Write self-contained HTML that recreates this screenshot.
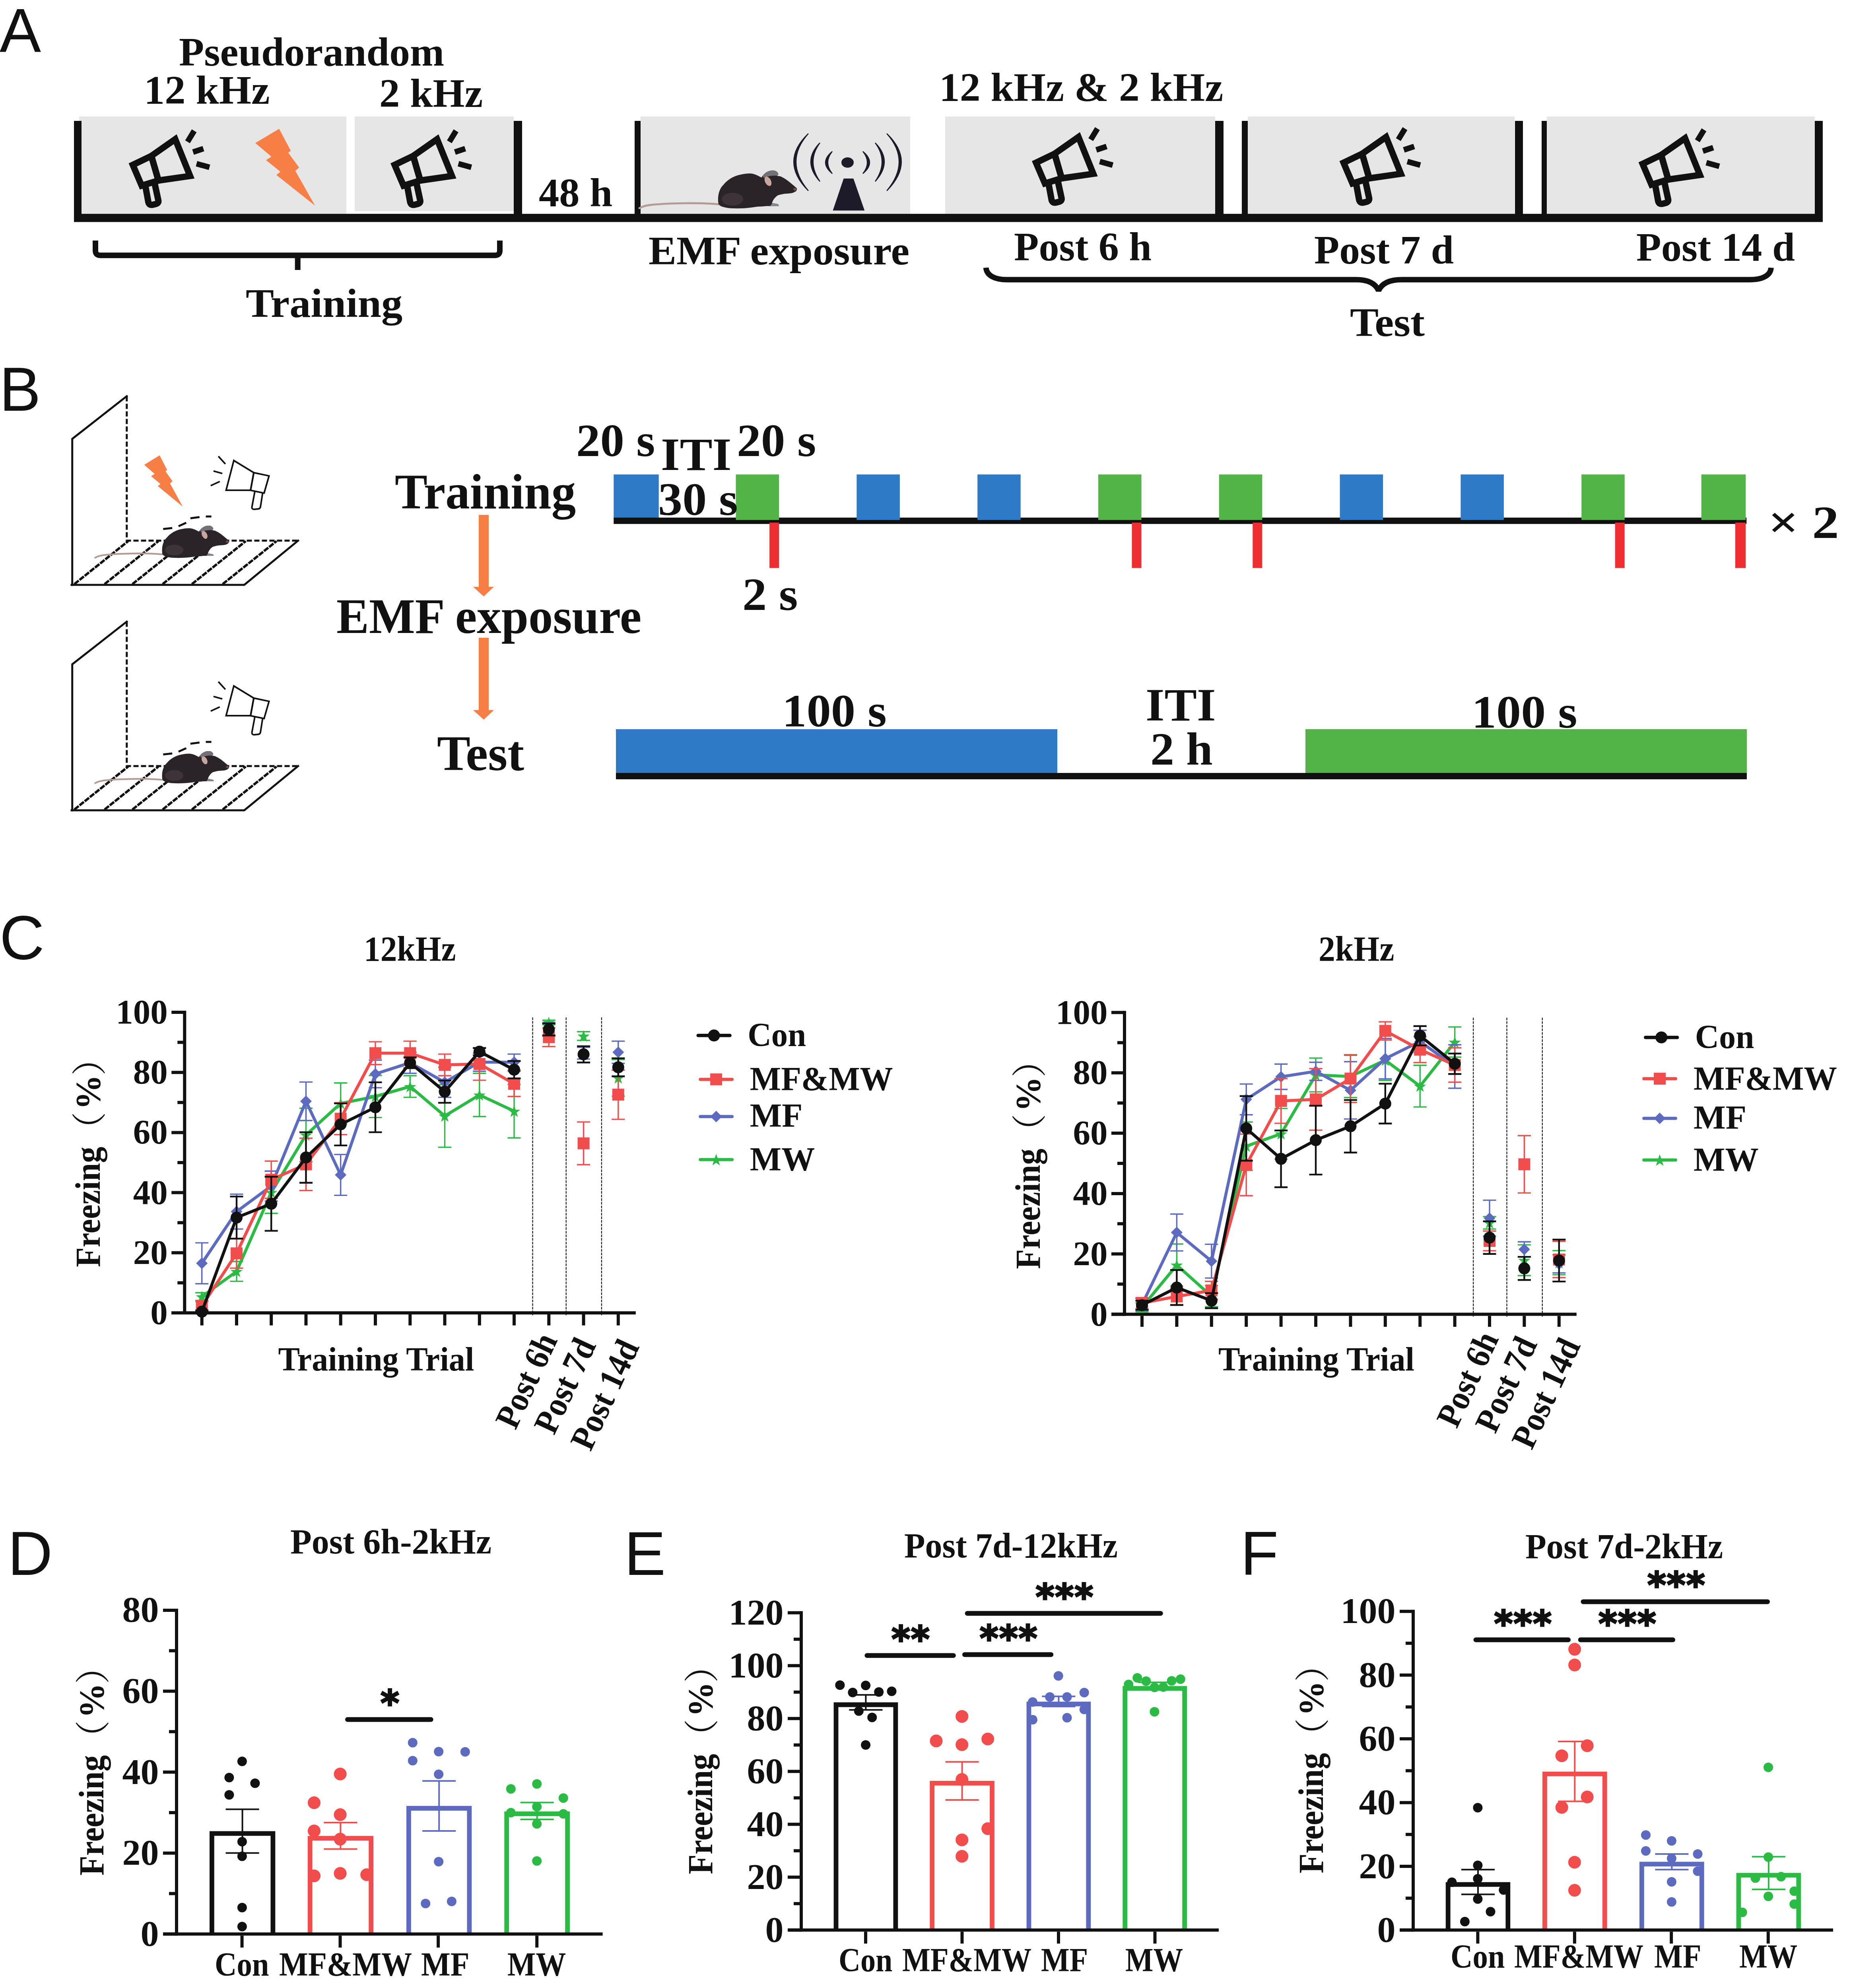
<!DOCTYPE html>
<html lang="en"><head><meta charset="utf-8"><title>Figure</title>
<style>
html,body{margin:0;padding:0;background:#fff;}
svg{display:block;}
text{font-family:"Liberation Serif", serif;font-weight:700;fill:#111;}
text.pl{font-family:"Liberation Sans", sans-serif;font-weight:400;}
text.cj{font-family:"Liberation Serif", "Noto Serif CJK SC", serif;}
</style></head><body>
<svg width="4650" height="5021" viewBox="0 0 4650 5021">
<rect width="4650" height="5021" fill="#fff"/>
<defs>
<g id="mega" fill="none" stroke="#111" stroke-width="16">
  <polygon points="13.9,94.7 60.6,72.3 78.5,134 36.3,147"/>
  <polygon points="60.6,72.3 120.7,30.1 158,122.6 78.5,134"/>
  <path d="M46,150 L53,188 Q55,197 64,195 L72,193 Q80,191 78,183 L68.8,140.5" stroke-linejoin="round"/>
  <g stroke-width="14">
  <line x1="151.6" y1="36.6" x2="168.4" y2="9"/>
  <line x1="165.5" y1="62.5" x2="191.5" y2="53.8"/>
  <line x1="174.3" y1="91.8" x2="206.8" y2="100.8"/>
  </g>
</g>
<polygon id="bolt" fill="#F77E45" points="0,35.8 60,0 89.3,55.3 82.8,60 110.4,97.5 100.7,105.6 150.3,193.3 53,116 63.3,107.9 27,78.7 40.6,69.9"/>
<g id="mouse">
  <path d="M30,114 C-20,109 -100,111 -140,115 C-155,116.5 -165,119.5 -172,123.5" fill="none" stroke="#b39a93" stroke-width="5" stroke-linecap="round"/>
  <path d="M26.7,112.5 C25,100 26,92 28.1,84.4 C31,75 34,70 39.4,64.7 C45,58 51,52.5 59.1,47.8 C67,43.5 75,40.5 84.4,38.7 C92,37 100,36 106.9,36.3 C113,36.8 119,38.5 123.8,40.8 L135.1,46.4 L137.9,42.2 C142,37 146,33.5 151.9,31 C157,29 161,28.5 166,28.8 C171,29.5 176,33 177.3,36.6 C177.5,39 176,41 174.5,42.2 L182.9,43.6 C189,46.5 194,49.5 199.8,53.5 C205,57.5 210,61.5 215.3,66.1 L223.7,73.2 C225,76 223.5,79.5 220.9,81.6 C218,83.5 214.5,85 211,85.8 C205,86.8 200,87 194.1,87.2 C188,88 181,89.5 175.9,91.4 C172,94 168.5,97.5 166,101.3 C163.5,105 162,108 161.8,111.1 C167,111.5 172,112.5 177.3,114 L178.7,118.2 L147.7,118.2 C140,119 133,119.3 126.6,119.6 C115,121.5 103,123 91.4,123.8 C80,124.3 68,124.3 56.3,123.8 C48,123 41,121.5 35.2,119.6 C31,117.5 28,115 26.7,112.5 Z" fill="#2a2327"/>
  <path d="M137.9,42.2 C142,37 146,33.5 151.9,31 C157,29 161,28.5 166,28.8 C171,29.5 176,33 177.3,36.6 C177.5,39 176,41 174.5,42.2 C165,41 150,43 141,48 Z" fill="#737077"/>
  <ellipse cx="151.5" cy="56" rx="7.5" ry="12.5" transform="rotate(-27 151.5 56)" fill="#c9a69b"/>
  <ellipse cx="62" cy="101" rx="27" ry="16" fill="#433b3f" opacity="0.75"/>
  <path d="M161.8,111.1 C167,111.5 172,112.5 177.3,114 L178.7,118.2 L157,118.2 Z" fill="#84858d"/>
  <ellipse cx="219" cy="76" rx="4" ry="3.5" fill="#6d4c49"/>
</g>
<g id="mega2" fill="none" stroke="#111" stroke-width="4">
  <polygon points="588,1158.2 568.6,1233.1 630.1,1233.1 638.2,1188.8"/>
  <polygon points="638.2,1188.8 676.6,1196.9 664.2,1240.1 630.1,1233.1"/>
  <path d="M640.7,1237 L633.6,1275 Q633,1281 639,1281 L649,1280 Q654,1279.5 655,1275 L660.5,1240"/>
  <line x1="549.2" y1="1147.6" x2="566.8" y2="1167"/>
  <line x1="536.9" y1="1184.6" x2="559.1" y2="1190.9"/>
  <line x1="529.9" y1="1221.5" x2="552.7" y2="1211"/>
</g>
</defs>

<!-- Panel A -->
<text class="pl" x="-1.0" y="130.0" font-size="156">A</text>
<text class="b" x="450.0" y="165.0" font-size="102" textLength="667.1" lengthAdjust="spacingAndGlyphs">Pseudorandom</text>
<text class="b" x="362.0" y="261.0" font-size="102" textLength="316.4" lengthAdjust="spacingAndGlyphs">12 kHz</text>
<text class="b" x="954.0" y="269.0" font-size="102" textLength="260.1" lengthAdjust="spacingAndGlyphs">2 kHz</text>
<text class="b" x="2362.0" y="254.0" font-size="102" textLength="714.2" lengthAdjust="spacingAndGlyphs">12 kHz &amp; 2 kHz</text>
<rect x="199.0" y="293.0" width="672.0" height="246.0" fill="#E6E6E6"/>
<rect x="892.0" y="293.0" width="400.0" height="238.0" fill="#E6E6E6"/>
<rect x="1611.0" y="293.0" width="678.0" height="246.0" fill="#E6E6E6"/>
<rect x="2377.0" y="293.0" width="679.0" height="246.0" fill="#E6E6E6"/>
<rect x="3138.0" y="293.0" width="671.0" height="246.0" fill="#E6E6E6"/>
<rect x="3890.0" y="293.0" width="674.0" height="246.0" fill="#E6E6E6"/>
<rect x="186.0" y="537.8" width="4398.0" height="20.6" fill="#111"/>
<rect x="186.0" y="304.0" width="19.0" height="240.0" fill="#111"/>
<rect x="1292.0" y="304.0" width="21.0" height="240.0" fill="#111"/>
<rect x="1596.0" y="304.0" width="15.0" height="240.0" fill="#111"/>
<rect x="3056.0" y="304.0" width="21.0" height="240.0" fill="#111"/>
<rect x="3123.0" y="304.0" width="15.0" height="240.0" fill="#111"/>
<rect x="3810.0" y="304.0" width="20.0" height="240.0" fill="#111"/>
<rect x="3877.0" y="304.0" width="13.0" height="240.0" fill="#111"/>
<rect x="4564.0" y="304.0" width="20.0" height="240.0" fill="#111"/>
<use href="#mega" x="320" y="320"/>
<use href="#mega" x="978.5" y="320"/>
<use href="#mega" x="2591.5" y="314.5"/>
<use href="#mega" x="3365" y="314.5"/>
<use href="#mega" x="4117" y="317.5"/>
<use href="#bolt" x="642" y="324"/>
<use href="#mouse" transform="translate(1780,400)"/>
<g fill="#1d1b2a" stroke="#1d1b2a" stroke-width="2.6" stroke-linejoin="round">
<path d="M2092.5,381.5 Q2059.8,408.8 2092.5,436 Q2070.8,408.8 2092.5,381.5 Z"/>
<path d="M2170.5,381.5 Q2203.2,408.8 2170.5,436 Q2192.2,408.8 2170.5,381.5 Z"/>
<path d="M2061.4,360 Q2017.0,406 2061.4,455.6 Q2028.0,406 2061.4,360 Z"/>
<path d="M2201.6,360 Q2246.0,406 2201.6,455.6 Q2235.0,406 2201.6,360 Z"/>
<path d="M2032.2,336.7 Q1960.4,406 2032.2,479 Q1971.4,406 2032.2,336.7 Z"/>
<path d="M2230.8,336.7 Q2302.6,406 2230.8,479 Q2291.6,406 2230.8,336.7 Z"/>
</g>
<ellipse cx="2131.5" cy="408.8" rx="15.5" ry="13" fill="#1d1b2a"/>
<polygon points="2121.7,449 2146.3,449 2174.3,529.6 2094.5,529.6" fill="#1d1b2a"/>
<text class="b" x="1355.0" y="519.0" font-size="102" textLength="185.3" lengthAdjust="spacingAndGlyphs">48 h</text>
<text class="b" x="1631.0" y="665.0" font-size="102" textLength="656.0" lengthAdjust="spacingAndGlyphs">EMF exposure</text>
<text class="b" x="2550.0" y="655.0" font-size="102" textLength="346.1" lengthAdjust="spacingAndGlyphs">Post 6 h</text>
<text class="b" x="3305.0" y="663.0" font-size="102" textLength="351.1" lengthAdjust="spacingAndGlyphs">Post 7 d</text>
<text class="b" x="4115.0" y="656.0" font-size="102" textLength="399.1" lengthAdjust="spacingAndGlyphs">Post 14 d</text>
<text class="b" x="618.0" y="797.0" font-size="102" textLength="394.1" lengthAdjust="spacingAndGlyphs">Training</text>
<text class="b" x="3395.0" y="845.0" font-size="102" textLength="188.1" lengthAdjust="spacingAndGlyphs">Test</text>
<path d="M240,605 L240,630 Q240,642.2 252,642.2 L1245,642.2 Q1257,642.2 1257,630 L1257,605 M748.7,642 L748.7,679" fill="none" stroke="#111" stroke-width="14"/>
<path d="M2479.7,673.3 C2481,692 2500,703.4 2533,703.4 L3411,703.4 Q3455,703.4 3467,731 Q3479,703.4 3525,703.4 L4400,703.4 C4434,703.4 4453,692 4454,673.3" fill="none" stroke="#111" stroke-width="13.6" stroke-linejoin="bevel"/>
<!-- Panel B -->
<text class="pl" x="-1.5" y="1032.5" font-size="156">B</text>
<g transform="translate(0,0)">
<g fill="none" stroke="#111" stroke-width="5" stroke-linecap="square">
<path d="M181.7,1471 L181.7,1103.7 L318.8,996.4"/>
<path d="M180,1471 L614.3,1471 L749.7,1359.7"/>
<path d="M318.8,996.4 L318.8,1359.7 L749.7,1359.7" stroke-dasharray="13 6" stroke-linecap="butt"/>
<path d="M187,1469 L322.4,1361" stroke-width="6" stroke-dasharray="14 2.6" stroke-linecap="butt"/>
<path d="M263,1469 L398.4,1361" stroke-width="6" stroke-dasharray="14 2.6" stroke-linecap="butt"/>
<path d="M333,1469 L468.4,1361" stroke-width="6" stroke-dasharray="14 2.6" stroke-linecap="butt"/>
<path d="M409,1469 L544.4,1361" stroke-width="6" stroke-dasharray="14 2.6" stroke-linecap="butt"/>
<path d="M482.6,1469 L618.0,1361" stroke-width="6" stroke-dasharray="14 2.6" stroke-linecap="butt"/>
<path d="M560,1469 L695.4,1361" stroke-width="6" stroke-dasharray="14 2.6" stroke-linecap="butt"/>
<path d="M410.3,1330.5 L433.2,1328 M449,1323.5 L468.3,1314.7 M478.9,1303.5 L501.7,1300.6 M517.6,1298.9 L531.6,1298.9" stroke-linecap="butt"/>
</g>
<use href="#mega2"/>
<use href="#bolt" transform="translate(362.8,1145.2) scale(0.643,0.667)"/>
<use href="#mouse" transform="translate(385.6,1297.6) scale(0.85)"/>
</g>
<g transform="translate(0,567)">
<g fill="none" stroke="#111" stroke-width="5" stroke-linecap="square">
<path d="M181.7,1471 L181.7,1103.7 L318.8,996.4"/>
<path d="M180,1471 L614.3,1471 L749.7,1359.7"/>
<path d="M318.8,996.4 L318.8,1359.7 L749.7,1359.7" stroke-dasharray="13 6" stroke-linecap="butt"/>
<path d="M187,1469 L322.4,1361" stroke-width="6" stroke-dasharray="14 2.6" stroke-linecap="butt"/>
<path d="M263,1469 L398.4,1361" stroke-width="6" stroke-dasharray="14 2.6" stroke-linecap="butt"/>
<path d="M333,1469 L468.4,1361" stroke-width="6" stroke-dasharray="14 2.6" stroke-linecap="butt"/>
<path d="M409,1469 L544.4,1361" stroke-width="6" stroke-dasharray="14 2.6" stroke-linecap="butt"/>
<path d="M482.6,1469 L618.0,1361" stroke-width="6" stroke-dasharray="14 2.6" stroke-linecap="butt"/>
<path d="M560,1469 L695.4,1361" stroke-width="6" stroke-dasharray="14 2.6" stroke-linecap="butt"/>
<path d="M410.3,1330.5 L433.2,1328 M449,1323.5 L468.3,1314.7 M478.9,1303.5 L501.7,1300.6 M517.6,1298.9 L531.6,1298.9" stroke-linecap="butt"/>
</g>
<use href="#mega2"/>
<use href="#mouse" transform="translate(385.6,1297.6) scale(0.85)"/>
</g>
<text class="b" x="993.0" y="1279.0" font-size="124" textLength="455.1" lengthAdjust="spacingAndGlyphs">Training</text>
<text class="b" x="846.0" y="1592.0" font-size="124" textLength="767.2" lengthAdjust="spacingAndGlyphs">EMF exposure</text>
<text class="b" x="1099.0" y="1937.0" font-size="124" textLength="219.1" lengthAdjust="spacingAndGlyphs">Test</text>
<path d="M1204,1295 L1229,1295 L1229,1476 L1242,1476 L1216.5,1500 L1190,1476 L1204,1476 Z" fill="#F77E45"/>
<path d="M1204,1604 L1229,1604 L1229,1786 L1242,1786 L1216.5,1810 L1190,1786 L1204,1786 Z" fill="#F77E45"/>
<rect x="1543.3" y="1193.3" width="113.4" height="110.0" fill="#2F7AC7"/>
<rect x="1543.3" y="1301.8" width="2849.0" height="16.0" fill="#111"/>
<rect x="1850.6" y="1193.3" width="108.5" height="114.5" fill="#52B347"/>
<rect x="1935.1" y="1314.4" width="24.0" height="114.2" fill="#EE2E31"/>
<rect x="2154.4" y="1193.3" width="108.5" height="114.5" fill="#2F7AC7"/>
<rect x="2458.2" y="1193.3" width="108.5" height="114.5" fill="#2F7AC7"/>
<rect x="2762.0" y="1193.3" width="108.5" height="114.5" fill="#52B347"/>
<rect x="2846.5" y="1314.4" width="24.0" height="114.2" fill="#EE2E31"/>
<rect x="3065.8" y="1193.3" width="108.5" height="114.5" fill="#52B347"/>
<rect x="3150.3" y="1314.4" width="24.0" height="114.2" fill="#EE2E31"/>
<rect x="3369.6" y="1193.3" width="108.5" height="114.5" fill="#2F7AC7"/>
<rect x="3673.4" y="1193.3" width="108.5" height="114.5" fill="#2F7AC7"/>
<rect x="3977.2" y="1193.3" width="108.5" height="114.5" fill="#52B347"/>
<rect x="4061.7" y="1314.4" width="24.0" height="114.2" fill="#EE2E31"/>
<rect x="4278.7" y="1193.3" width="111.6" height="114.5" fill="#52B347"/>
<rect x="4363.9" y="1314.4" width="26.4" height="114.2" fill="#EE2E31"/>
<text class="b" x="1449.0" y="1147.0" font-size="117" textLength="198.3" lengthAdjust="spacingAndGlyphs">20 s</text>
<text class="b" x="1662.0" y="1182.0" font-size="117" textLength="177.4" lengthAdjust="spacingAndGlyphs">ITI</text>
<text class="b" x="1853.0" y="1147.0" font-size="117" textLength="199.3" lengthAdjust="spacingAndGlyphs">20 s</text>
<text class="b" x="1655.0" y="1295.0" font-size="117" textLength="200.5" lengthAdjust="spacingAndGlyphs">30 s</text>
<text class="b" x="1867.0" y="1534.0" font-size="117" textLength="139.5" lengthAdjust="spacingAndGlyphs">2 s</text>
<text class="b" x="4446.4" y="1353.0" font-size="117" textLength="178.3" lengthAdjust="spacingAndGlyphs">× 2</text>
<rect x="1549.0" y="1834.0" width="1110.0" height="111.0" fill="#2F7AC7"/>
<rect x="3283.0" y="1834.0" width="1110.0" height="111.0" fill="#52B347"/>
<rect x="1549.0" y="1944.0" width="2844.0" height="16.0" fill="#111"/>
<text class="b" x="1967.0" y="1827.0" font-size="117" textLength="262.7" lengthAdjust="spacingAndGlyphs">100 s</text>
<text class="b" x="3701.0" y="1830.0" font-size="117" textLength="265.7" lengthAdjust="spacingAndGlyphs">100 s</text>
<text class="b" x="2881.0" y="1812.0" font-size="117" textLength="176.4" lengthAdjust="spacingAndGlyphs">ITI</text>
<text class="b" x="2893.0" y="1923.0" font-size="117" textLength="156.8" lengthAdjust="spacingAndGlyphs">2 h</text>
<!-- Panel C -->
<text class="pl" x="-1.0" y="2412.0" font-size="156">C</text>
<line x1="1339.5" y1="2559.0" x2="1339.5" y2="3308.0" stroke="#1a1414" stroke-width="2.2" stroke-dasharray="6.5 2.6"/>
<line x1="1423.7" y1="2559.0" x2="1423.7" y2="3308.0" stroke="#1a1414" stroke-width="2.2" stroke-dasharray="6.5 2.6"/>
<line x1="1512.9" y1="2559.0" x2="1512.9" y2="3308.0" stroke="#1a1414" stroke-width="2.2" stroke-dasharray="6.5 2.6"/>
<path d="M507.7,3251.3 L507.7,3271.0 M491.2,3251.3 L524.2,3251.3 M491.2,3271.0 L524.2,3271.0" fill="none" stroke="#2BBB44" stroke-width="3.4"/>
<path d="M595.0,3172.7 L595.0,3222.6 M578.5,3172.7 L611.5,3172.7 M578.5,3222.6 L611.5,3222.6" fill="none" stroke="#2BBB44" stroke-width="3.4"/>
<path d="M682.2,2945.9 L682.2,3051.8 M665.7,2945.9 L698.7,2945.9 M665.7,3051.8 L698.7,3051.8" fill="none" stroke="#2BBB44" stroke-width="3.4"/>
<path d="M769.5,2787.2 L769.5,2921.7 M753.0,2787.2 L786.0,2787.2 M753.0,2921.7 L786.0,2921.7" fill="none" stroke="#2BBB44" stroke-width="3.4"/>
<path d="M856.7,2723.7 L856.7,2826.5 M840.2,2723.7 L873.2,2723.7 M840.2,2826.5 L873.2,2826.5" fill="none" stroke="#2BBB44" stroke-width="3.4"/>
<path d="M944.0,2704.8 L944.0,2810.6 M927.5,2704.8 L960.5,2704.8 M927.5,2810.6 L960.5,2810.6" fill="none" stroke="#2BBB44" stroke-width="3.4"/>
<path d="M1031.3,2705.5 L1031.3,2759.9 M1014.8,2705.5 L1047.8,2705.5 M1014.8,2759.9 L1047.8,2759.9" fill="none" stroke="#2BBB44" stroke-width="3.4"/>
<path d="M1118.5,2728.2 L1118.5,2885.4 M1102.0,2728.2 L1135.0,2728.2 M1102.0,2885.4 L1135.0,2885.4" fill="none" stroke="#2BBB44" stroke-width="3.4"/>
<path d="M1205.8,2699.5 L1205.8,2808.3 M1189.3,2699.5 L1222.3,2699.5 M1189.3,2808.3 L1222.3,2808.3" fill="none" stroke="#2BBB44" stroke-width="3.4"/>
<path d="M1293.0,2727.4 L1293.0,2862.0 M1276.5,2727.4 L1309.5,2727.4 M1276.5,2862.0 L1309.5,2862.0" fill="none" stroke="#2BBB44" stroke-width="3.4"/>
<path d="M1380.3,2566.0 L1380.3,2577.4 M1363.8,2566.0 L1396.8,2566.0 M1363.8,2577.4 L1396.8,2577.4" fill="none" stroke="#2BBB44" stroke-width="3.4"/>
<path d="M1467.6,2594.8 L1467.6,2616.6 M1451.1,2594.8 L1484.1,2594.8 M1451.1,2616.6 L1484.1,2616.6" fill="none" stroke="#2BBB44" stroke-width="3.4"/>
<path d="M1554.8,2664.7 L1554.8,2756.9 M1538.3,2664.7 L1571.3,2664.7 M1538.3,2756.9 L1571.3,2756.9" fill="none" stroke="#2BBB44" stroke-width="3.4"/>
<polyline points="507.7,3261.2 595.0,3197.7 682.2,2998.8 769.5,2854.4 856.7,2775.1 944.0,2757.7 1031.3,2732.7 1118.5,2806.8 1205.8,2753.9 1293.0,2794.7" fill="none" stroke="#2BBB44" stroke-width="7.5" stroke-linejoin="round"/>
<polygon points="507.7,3246.7 511.5,3257.5 522.9,3257.7 513.8,3264.7 517.1,3275.6 507.7,3269.1 498.3,3275.6 501.6,3264.7 492.5,3257.7 503.9,3257.5" fill="#2BBB44"/>
<polygon points="595.0,3183.2 598.7,3194.0 610.2,3194.2 601.0,3201.1 604.4,3212.1 595.0,3205.6 585.6,3212.1 588.9,3201.1 579.7,3194.2 591.2,3194.0" fill="#2BBB44"/>
<polygon points="682.2,2984.3 686.0,2995.2 697.4,2995.4 688.3,3002.3 691.6,3013.3 682.2,3006.7 672.8,3013.3 676.1,3002.3 667.0,2995.4 678.5,2995.2" fill="#2BBB44"/>
<polygon points="769.5,2839.9 773.2,2850.8 784.7,2851.0 775.6,2857.9 778.9,2868.9 769.5,2862.3 760.1,2868.9 763.4,2857.9 754.3,2851.0 765.7,2850.8" fill="#2BBB44"/>
<polygon points="856.7,2760.6 860.5,2771.4 872.0,2771.6 862.8,2778.5 866.1,2789.5 856.7,2783.0 847.3,2789.5 850.7,2778.5 841.5,2771.6 853.0,2771.4" fill="#2BBB44"/>
<polygon points="944.0,2743.2 947.8,2754.0 959.2,2754.2 950.1,2761.2 953.4,2772.1 944.0,2765.6 934.6,2772.1 937.9,2761.2 928.8,2754.2 940.2,2754.0" fill="#2BBB44"/>
<polygon points="1031.3,2718.2 1035.0,2729.1 1046.5,2729.3 1037.3,2736.2 1040.7,2747.2 1031.3,2740.6 1021.9,2747.2 1025.2,2736.2 1016.0,2729.3 1027.5,2729.1" fill="#2BBB44"/>
<polygon points="1118.5,2792.3 1122.3,2803.1 1133.7,2803.4 1124.6,2810.3 1127.9,2821.3 1118.5,2814.7 1109.1,2821.3 1112.4,2810.3 1103.3,2803.4 1114.8,2803.1" fill="#2BBB44"/>
<polygon points="1205.8,2739.4 1209.5,2750.2 1221.0,2750.5 1211.9,2757.4 1215.2,2768.3 1205.8,2761.8 1196.4,2768.3 1199.7,2757.4 1190.6,2750.5 1202.0,2750.2" fill="#2BBB44"/>
<polygon points="1293.0,2780.2 1296.8,2791.0 1308.3,2791.3 1299.1,2798.2 1302.4,2809.2 1293.0,2802.6 1283.6,2809.2 1287.0,2798.2 1277.8,2791.3 1289.3,2791.0" fill="#2BBB44"/>
<polygon points="1380.3,2557.2 1384.1,2568.0 1395.5,2568.3 1386.4,2575.2 1389.7,2586.1 1380.3,2579.6 1370.9,2586.1 1374.2,2575.2 1365.1,2568.3 1376.5,2568.0" fill="#2BBB44"/>
<polygon points="1467.6,2591.2 1471.3,2602.0 1482.8,2602.3 1473.6,2609.2 1477.0,2620.2 1467.6,2613.6 1458.2,2620.2 1461.5,2609.2 1452.3,2602.3 1463.8,2602.0" fill="#2BBB44"/>
<polygon points="1554.8,2696.3 1558.6,2707.1 1570.0,2707.4 1560.9,2714.3 1564.2,2725.3 1554.8,2718.7 1545.4,2725.3 1548.7,2714.3 1539.6,2707.4 1551.1,2707.1" fill="#2BBB44"/>
<path d="M507.7,3125.9 L507.7,3228.7 M491.2,3125.9 L524.2,3125.9 M491.2,3228.7 L524.2,3228.7" fill="none" stroke="#5C6BC0" stroke-width="3.4"/>
<path d="M595.0,3003.4 L595.0,3091.1 M578.5,3003.4 L611.5,3003.4 M578.5,3091.1 L611.5,3091.1" fill="none" stroke="#5C6BC0" stroke-width="3.4"/>
<path d="M682.2,2945.2 L682.2,3020.8 M665.7,2945.2 L698.7,2945.2 M665.7,3020.8 L698.7,3020.8" fill="none" stroke="#5C6BC0" stroke-width="3.4"/>
<path d="M769.5,2721.4 L769.5,2818.2 M753.0,2721.4 L786.0,2721.4 M753.0,2818.2 L786.0,2818.2" fill="none" stroke="#5C6BC0" stroke-width="3.4"/>
<path d="M856.7,2903.6 L856.7,3006.4 M840.2,2903.6 L873.2,2903.6 M840.2,3006.4 L873.2,3006.4" fill="none" stroke="#5C6BC0" stroke-width="3.4"/>
<path d="M944.0,2666.2 L944.0,2735.8 M927.5,2666.2 L960.5,2666.2 M927.5,2735.8 L960.5,2735.8" fill="none" stroke="#5C6BC0" stroke-width="3.4"/>
<path d="M1031.3,2646.5 L1031.3,2699.5 M1014.8,2646.5 L1047.8,2646.5 M1014.8,2699.5 L1047.8,2699.5" fill="none" stroke="#5C6BC0" stroke-width="3.4"/>
<path d="M1118.5,2684.3 L1118.5,2759.9 M1102.0,2684.3 L1135.0,2684.3 M1102.0,2759.9 L1135.0,2759.9" fill="none" stroke="#5C6BC0" stroke-width="3.4"/>
<path d="M1205.8,2648.8 L1205.8,2694.2 M1189.3,2648.8 L1222.3,2648.8 M1189.3,2694.2 L1222.3,2694.2" fill="none" stroke="#5C6BC0" stroke-width="3.4"/>
<path d="M1293.0,2651.1 L1293.0,2691.9 M1276.5,2651.1 L1309.5,2651.1 M1276.5,2691.9 L1309.5,2691.9" fill="none" stroke="#5C6BC0" stroke-width="3.4"/>
<path d="M1380.3,2572.1 L1380.3,2606.1 M1363.8,2572.1 L1396.8,2572.1 M1363.8,2606.1 L1396.8,2606.1" fill="none" stroke="#5C6BC0" stroke-width="3.4"/>
<path d="M1467.6,2634.0 L1467.6,2663.6 M1451.1,2634.0 L1484.1,2634.0 M1451.1,2663.6 L1484.1,2663.6" fill="none" stroke="#5C6BC0" stroke-width="3.4"/>
<path d="M1554.8,2618.6 L1554.8,2674.5 M1538.3,2618.6 L1571.3,2618.6 M1538.3,2674.5 L1571.3,2674.5" fill="none" stroke="#5C6BC0" stroke-width="3.4"/>
<polyline points="507.7,3177.3 595.0,3047.2 682.2,2983.0 769.5,2769.8 856.7,2955.0 944.0,2701.0 1031.3,2673.0 1118.5,2722.1 1205.8,2671.5 1293.0,2671.5" fill="none" stroke="#5C6BC0" stroke-width="7.5" stroke-linejoin="round"/>
<polygon points="507.7,3162.8 522.2,3177.3 507.7,3191.8 493.2,3177.3" fill="#5C6BC0"/>
<polygon points="595.0,3032.7 609.5,3047.2 595.0,3061.7 580.5,3047.2" fill="#5C6BC0"/>
<polygon points="682.2,2968.5 696.7,2983.0 682.2,2997.5 667.7,2983.0" fill="#5C6BC0"/>
<polygon points="769.5,2755.3 784.0,2769.8 769.5,2784.3 755.0,2769.8" fill="#5C6BC0"/>
<polygon points="856.7,2940.5 871.2,2955.0 856.7,2969.5 842.2,2955.0" fill="#5C6BC0"/>
<polygon points="944.0,2686.5 958.5,2701.0 944.0,2715.5 929.5,2701.0" fill="#5C6BC0"/>
<polygon points="1031.3,2658.5 1045.8,2673.0 1031.3,2687.5 1016.8,2673.0" fill="#5C6BC0"/>
<polygon points="1118.5,2707.6 1133.0,2722.1 1118.5,2736.6 1104.0,2722.1" fill="#5C6BC0"/>
<polygon points="1205.8,2657.0 1220.3,2671.5 1205.8,2686.0 1191.3,2671.5" fill="#5C6BC0"/>
<polygon points="1293.0,2657.0 1307.5,2671.5 1293.0,2686.0 1278.5,2671.5" fill="#5C6BC0"/>
<polygon points="1380.3,2574.6 1394.8,2589.1 1380.3,2603.6 1365.8,2589.1" fill="#5C6BC0"/>
<polygon points="1467.6,2634.3 1482.1,2648.8 1467.6,2663.3 1453.1,2648.8" fill="#5C6BC0"/>
<polygon points="1554.8,2632.0 1569.3,2646.5 1554.8,2661.0 1540.3,2646.5" fill="#5C6BC0"/>
<path d="M507.7,3273.3 L507.7,3296.0 M491.2,3273.3 L524.2,3273.3 M491.2,3296.0 L524.2,3296.0" fill="none" stroke="#F24D4D" stroke-width="3.4"/>
<path d="M595.0,3115.3 L595.0,3189.4 M578.5,3115.3 L611.5,3115.3 M578.5,3189.4 L611.5,3189.4" fill="none" stroke="#F24D4D" stroke-width="3.4"/>
<path d="M682.2,2920.2 L682.2,3014.0 M665.7,2920.2 L698.7,2920.2 M665.7,3014.0 L698.7,3014.0" fill="none" stroke="#F24D4D" stroke-width="3.4"/>
<path d="M769.5,2862.8 L769.5,2994.3 M753.0,2862.8 L786.0,2862.8 M753.0,2994.3 L786.0,2994.3" fill="none" stroke="#F24D4D" stroke-width="3.4"/>
<path d="M856.7,2773.6 L856.7,2853.7 M840.2,2773.6 L873.2,2773.6 M840.2,2853.7 L873.2,2853.7" fill="none" stroke="#F24D4D" stroke-width="3.4"/>
<path d="M944.0,2620.1 L944.0,2677.5 M927.5,2620.1 L960.5,2620.1 M927.5,2677.5 L960.5,2677.5" fill="none" stroke="#F24D4D" stroke-width="3.4"/>
<path d="M1031.3,2618.6 L1031.3,2679.1 M1014.8,2618.6 L1047.8,2618.6 M1014.8,2679.1 L1047.8,2679.1" fill="none" stroke="#F24D4D" stroke-width="3.4"/>
<path d="M1118.5,2651.1 L1118.5,2705.5 M1102.0,2651.1 L1135.0,2651.1 M1102.0,2705.5 L1135.0,2705.5" fill="none" stroke="#F24D4D" stroke-width="3.4"/>
<path d="M1205.8,2635.2 L1205.8,2716.9 M1189.3,2635.2 L1222.3,2635.2 M1189.3,2716.9 L1222.3,2716.9" fill="none" stroke="#F24D4D" stroke-width="3.4"/>
<path d="M1293.0,2694.2 L1293.0,2757.7 M1276.5,2694.2 L1309.5,2694.2 M1276.5,2757.7 L1309.5,2757.7" fill="none" stroke="#F24D4D" stroke-width="3.4"/>
<path d="M1380.3,2585.3 L1380.3,2632.2 M1363.8,2585.3 L1396.8,2585.3 M1363.8,2632.2 L1396.8,2632.2" fill="none" stroke="#F24D4D" stroke-width="3.4"/>
<path d="M1467.6,2821.9 L1467.6,2929.3 M1451.1,2821.9 L1484.1,2821.9 M1451.1,2929.3 L1484.1,2929.3" fill="none" stroke="#F24D4D" stroke-width="3.4"/>
<path d="M1554.8,2691.2 L1554.8,2815.1 M1538.3,2691.2 L1571.3,2691.2 M1538.3,2815.1 L1571.3,2815.1" fill="none" stroke="#F24D4D" stroke-width="3.4"/>
<polyline points="507.7,3284.6 595.0,3152.3 682.2,2967.1 769.5,2928.5 856.7,2813.6 944.0,2648.8 1031.3,2648.8 1118.5,2678.3 1205.8,2676.0 1293.0,2725.9" fill="none" stroke="#F24D4D" stroke-width="7.5" stroke-linejoin="round"/>
<rect x="492.7" y="3269.6" width="30" height="30" fill="#F24D4D"/>
<rect x="580.0" y="3137.3" width="30" height="30" fill="#F24D4D"/>
<rect x="667.2" y="2952.1" width="30" height="30" fill="#F24D4D"/>
<rect x="754.5" y="2913.5" width="30" height="30" fill="#F24D4D"/>
<rect x="841.7" y="2798.6" width="30" height="30" fill="#F24D4D"/>
<rect x="929.0" y="2633.8" width="30" height="30" fill="#F24D4D"/>
<rect x="1016.3" y="2633.8" width="30" height="30" fill="#F24D4D"/>
<rect x="1103.5" y="2663.3" width="30" height="30" fill="#F24D4D"/>
<rect x="1190.8" y="2661.0" width="30" height="30" fill="#F24D4D"/>
<rect x="1278.0" y="2710.9" width="30" height="30" fill="#F24D4D"/>
<rect x="1365.3" y="2593.7" width="30" height="30" fill="#F24D4D"/>
<rect x="1452.6" y="2860.6" width="30" height="30" fill="#F24D4D"/>
<rect x="1539.8" y="2738.1" width="30" height="30" fill="#F24D4D"/>
<path d="M507.7,3296.0 L507.7,3302.0 M491.2,3296.0 L524.2,3296.0 M491.2,3302.0 L524.2,3302.0" fill="none" stroke="#111" stroke-width="4.4"/>
<path d="M595.0,3009.4 L595.0,3115.3 M578.5,3009.4 L611.5,3009.4 M578.5,3115.3 L611.5,3115.3" fill="none" stroke="#111" stroke-width="4.4"/>
<path d="M682.2,2959.5 L682.2,3095.6 M665.7,2959.5 L698.7,2959.5 M665.7,3095.6 L698.7,3095.6" fill="none" stroke="#111" stroke-width="4.4"/>
<path d="M769.5,2847.6 L769.5,2974.7 M753.0,2847.6 L786.0,2847.6 M753.0,2974.7 L786.0,2974.7" fill="none" stroke="#111" stroke-width="4.4"/>
<path d="M856.7,2775.1 L856.7,2880.9 M840.2,2775.1 L873.2,2775.1 M840.2,2880.9 L873.2,2880.9" fill="none" stroke="#111" stroke-width="4.4"/>
<path d="M944.0,2722.1 L944.0,2847.6 M927.5,2722.1 L960.5,2722.1 M927.5,2847.6 L960.5,2847.6" fill="none" stroke="#111" stroke-width="4.4"/>
<path d="M1031.3,2659.4 L1031.3,2686.6 M1014.8,2659.4 L1047.8,2659.4 M1014.8,2686.6 L1047.8,2686.6" fill="none" stroke="#111" stroke-width="4.4"/>
<path d="M1118.5,2717.6 L1118.5,2773.6 M1102.0,2717.6 L1135.0,2717.6 M1102.0,2773.6 L1135.0,2773.6" fill="none" stroke="#111" stroke-width="4.4"/>
<path d="M1205.8,2636.0 L1205.8,2654.1 M1189.3,2636.0 L1222.3,2636.0 M1189.3,2654.1 L1222.3,2654.1" fill="none" stroke="#111" stroke-width="4.4"/>
<path d="M1293.0,2668.5 L1293.0,2712.3 M1276.5,2668.5 L1309.5,2668.5 M1276.5,2712.3 L1309.5,2712.3" fill="none" stroke="#111" stroke-width="4.4"/>
<path d="M1380.3,2574.0 L1380.3,2604.2 M1363.8,2574.0 L1396.8,2574.0 M1363.8,2604.2 L1396.8,2604.2" fill="none" stroke="#111" stroke-width="4.4"/>
<path d="M1467.6,2631.4 L1467.6,2672.3 M1451.1,2631.4 L1484.1,2631.4 M1451.1,2672.3 L1484.1,2672.3" fill="none" stroke="#111" stroke-width="4.4"/>
<path d="M1554.8,2661.7 L1554.8,2707.0 M1538.3,2661.7 L1571.3,2661.7 M1538.3,2707.0 L1571.3,2707.0" fill="none" stroke="#111" stroke-width="4.4"/>
<polyline points="507.7,3299.0 595.0,3062.3 682.2,3027.6 769.5,2911.1 856.7,2828.0 944.0,2784.9 1031.3,2673.0 1118.5,2745.6 1205.8,2645.0 1293.0,2690.4" fill="none" stroke="#111" stroke-width="7.5" stroke-linejoin="round"/>
<circle cx="507.7" cy="3299.0" r="15" fill="#111"/>
<circle cx="595.0" cy="3062.3" r="15" fill="#111"/>
<circle cx="682.2" cy="3027.6" r="15" fill="#111"/>
<circle cx="769.5" cy="2911.1" r="15" fill="#111"/>
<circle cx="856.7" cy="2828.0" r="15" fill="#111"/>
<circle cx="944.0" cy="2784.9" r="15" fill="#111"/>
<circle cx="1031.3" cy="2673.0" r="15" fill="#111"/>
<circle cx="1118.5" cy="2745.6" r="15" fill="#111"/>
<circle cx="1205.8" cy="2645.0" r="15" fill="#111"/>
<circle cx="1293.0" cy="2690.4" r="15" fill="#111"/>
<circle cx="1380.3" cy="2589.1" r="15" fill="#111"/>
<circle cx="1467.6" cy="2651.8" r="15" fill="#111"/>
<circle cx="1554.8" cy="2684.3" r="15" fill="#111"/>
<line x1="464.3" y1="2542.0" x2="464.3" y2="3306.0" stroke="#111" stroke-width="8"/>
<line x1="431.3" y1="3302.0" x2="1598.8" y2="3302.0" stroke="#111" stroke-width="8"/>
<line x1="431.3" y1="3302.0" x2="464.3" y2="3302.0" stroke="#111" stroke-width="8"/>
<text class="b" x="421.8" y="3330.0" font-size="87" text-anchor="end">0</text>
<line x1="446.3" y1="3226.4" x2="464.3" y2="3226.4" stroke="#111" stroke-width="8"/>
<line x1="431.3" y1="3150.8" x2="464.3" y2="3150.8" stroke="#111" stroke-width="8"/>
<text class="b" x="421.8" y="3178.8" font-size="87" text-anchor="end">20</text>
<line x1="446.3" y1="3075.2" x2="464.3" y2="3075.2" stroke="#111" stroke-width="8"/>
<line x1="431.3" y1="2999.6" x2="464.3" y2="2999.6" stroke="#111" stroke-width="8"/>
<text class="b" x="421.8" y="3027.6" font-size="87" text-anchor="end">40</text>
<line x1="446.3" y1="2924.0" x2="464.3" y2="2924.0" stroke="#111" stroke-width="8"/>
<line x1="431.3" y1="2848.4" x2="464.3" y2="2848.4" stroke="#111" stroke-width="8"/>
<text class="b" x="421.8" y="2876.4" font-size="87" text-anchor="end">60</text>
<line x1="446.3" y1="2772.8" x2="464.3" y2="2772.8" stroke="#111" stroke-width="8"/>
<line x1="431.3" y1="2697.2" x2="464.3" y2="2697.2" stroke="#111" stroke-width="8"/>
<text class="b" x="421.8" y="2725.2" font-size="87" text-anchor="end">80</text>
<line x1="446.3" y1="2621.6" x2="464.3" y2="2621.6" stroke="#111" stroke-width="8"/>
<line x1="431.3" y1="2546.0" x2="464.3" y2="2546.0" stroke="#111" stroke-width="8"/>
<text class="b" x="421.8" y="2574.0" font-size="87" text-anchor="end">100</text>
<line x1="507.7" y1="3306.0" x2="507.7" y2="3333.5" stroke="#111" stroke-width="8"/>
<line x1="595.0" y1="3306.0" x2="595.0" y2="3333.5" stroke="#111" stroke-width="8"/>
<line x1="682.2" y1="3306.0" x2="682.2" y2="3333.5" stroke="#111" stroke-width="8"/>
<line x1="769.5" y1="3306.0" x2="769.5" y2="3333.5" stroke="#111" stroke-width="8"/>
<line x1="856.7" y1="3306.0" x2="856.7" y2="3333.5" stroke="#111" stroke-width="8"/>
<line x1="944.0" y1="3306.0" x2="944.0" y2="3333.5" stroke="#111" stroke-width="8"/>
<line x1="1031.3" y1="3306.0" x2="1031.3" y2="3333.5" stroke="#111" stroke-width="8"/>
<line x1="1118.5" y1="3306.0" x2="1118.5" y2="3333.5" stroke="#111" stroke-width="8"/>
<line x1="1205.8" y1="3306.0" x2="1205.8" y2="3333.5" stroke="#111" stroke-width="8"/>
<line x1="1293.0" y1="3306.0" x2="1293.0" y2="3333.5" stroke="#111" stroke-width="8"/>
<line x1="1380.3" y1="3306.0" x2="1380.3" y2="3333.5" stroke="#111" stroke-width="8"/>
<line x1="1467.6" y1="3306.0" x2="1467.6" y2="3333.5" stroke="#111" stroke-width="8"/>
<line x1="1554.8" y1="3306.0" x2="1554.8" y2="3333.5" stroke="#111" stroke-width="8"/>
<text class="b" x="915.0" y="2416.0" font-size="88" textLength="231.4" lengthAdjust="spacingAndGlyphs">12kHz</text>
<text class="cj" transform="translate(250.9,3187.0) rotate(-90)" font-size="88"><tspan textLength="303" lengthAdjust="spacingAndGlyphs">Freezing</tspan><tspan font-weight="400" dx="-0.6" dy="5">（</tspan><tspan dx="5.6" dy="-5">%</tspan><tspan font-weight="400" dx="-2.3" dy="5">）</tspan></text>
<text class="b" x="699.4" y="3446.7" font-size="84" textLength="493.1" lengthAdjust="spacingAndGlyphs">Training Trial</text>
<text transform="translate(1296.5,3598.4) rotate(-65)" font-size="87" textLength="252" lengthAdjust="spacingAndGlyphs">Post 6h</text>
<text transform="translate(1393.5,3611.4) rotate(-65)" font-size="87" textLength="252" lengthAdjust="spacingAndGlyphs">Post 7d</text>
<text transform="translate(1485.2,3652.5) rotate(-65)" font-size="87" textLength="293" lengthAdjust="spacingAndGlyphs">Post 14d</text>
<line x1="1755.8" y1="2604.3" x2="1835.5" y2="2604.3" stroke="#111" stroke-width="8.6" stroke-linecap="round"/>
<circle cx="1795.6" cy="2604.3" r="15" fill="#111"/>
<text class="b" x="1880.2" y="2630.9" font-size="84" textLength="146.9" lengthAdjust="spacingAndGlyphs">Con</text>
<line x1="1761.3" y1="2714.7" x2="1841.0" y2="2714.7" stroke="#F24D4D" stroke-width="8" stroke-linecap="round"/>
<rect x="1786.1" y="2699.7" width="30" height="30" fill="#F24D4D"/>
<text class="b" x="1885.8" y="2742.0" font-size="84" textLength="359.8" lengthAdjust="spacingAndGlyphs">MF&amp;MW</text>
<line x1="1761.3" y1="2808.2" x2="1841.0" y2="2808.2" stroke="#5C6BC0" stroke-width="8" stroke-linecap="round"/>
<polygon points="1801.1,2793.7 1815.6,2808.2 1801.1,2822.7 1786.6,2808.2" fill="#5C6BC0"/>
<text class="b" x="1885.8" y="2833.8" font-size="84" textLength="132.5" lengthAdjust="spacingAndGlyphs">MF</text>
<line x1="1761.3" y1="2916.6" x2="1841.0" y2="2916.6" stroke="#2BBB44" stroke-width="8" stroke-linecap="round"/>
<polygon points="1801.1,2902.1 1804.9,2912.9 1816.3,2913.2 1807.2,2920.1 1810.5,2931.0 1801.1,2924.5 1791.7,2931.0 1795.0,2920.1 1785.9,2913.2 1797.3,2912.9" fill="#2BBB44"/>
<text class="b" x="1885.8" y="2943.6" font-size="84" textLength="163.4" lengthAdjust="spacingAndGlyphs">MW</text>
<line x1="3705.1" y1="2559.5" x2="3705.1" y2="3311.5" stroke="#1a1414" stroke-width="2.2" stroke-dasharray="6.5 2.6"/>
<line x1="3789.5" y1="2559.5" x2="3789.5" y2="3311.5" stroke="#1a1414" stroke-width="2.2" stroke-dasharray="6.5 2.6"/>
<line x1="3878.8" y1="2559.5" x2="3878.8" y2="3311.5" stroke="#1a1414" stroke-width="2.2" stroke-dasharray="6.5 2.6"/>
<path d="M2872.0,3276.7 L2872.0,3299.4 M2855.5,3276.7 L2888.5,3276.7 M2855.5,3299.4 L2888.5,3299.4" fill="none" stroke="#2BBB44" stroke-width="3.4"/>
<path d="M2959.4,3128.7 L2959.4,3234.9 M2942.9,3128.7 L2975.9,3128.7 M2942.9,3234.9 L2975.9,3234.9" fill="none" stroke="#2BBB44" stroke-width="3.4"/>
<path d="M3046.8,3233.4 L3046.8,3286.5 M3030.3,3233.4 L3063.3,3233.4 M3030.3,3286.5 L3063.3,3286.5" fill="none" stroke="#2BBB44" stroke-width="3.4"/>
<path d="M3134.2,2822.0 L3134.2,2943.5 M3117.7,2822.0 L3150.7,2822.0 M3117.7,2943.5 L3150.7,2943.5" fill="none" stroke="#2BBB44" stroke-width="3.4"/>
<path d="M3221.6,2787.9 L3221.6,2915.4 M3205.1,2787.9 L3238.1,2787.9 M3205.1,2915.4 L3238.1,2915.4" fill="none" stroke="#2BBB44" stroke-width="3.4"/>
<path d="M3309.0,2661.1 L3309.0,2746.1 M3292.5,2661.1 L3325.5,2661.1 M3292.5,2746.1 L3325.5,2746.1" fill="none" stroke="#2BBB44" stroke-width="3.4"/>
<path d="M3396.4,2654.3 L3396.4,2760.5 M3379.9,2654.3 L3412.9,2654.3 M3379.9,2760.5 L3412.9,2760.5" fill="none" stroke="#2BBB44" stroke-width="3.4"/>
<path d="M3483.8,2615.6 L3483.8,2717.3 M3467.3,2615.6 L3500.3,2615.6 M3467.3,2717.3 L3500.3,2717.3" fill="none" stroke="#2BBB44" stroke-width="3.4"/>
<path d="M3571.2,2679.3 L3571.2,2784.1 M3554.7,2679.3 L3587.7,2679.3 M3554.7,2784.1 L3587.7,2784.1" fill="none" stroke="#2BBB44" stroke-width="3.4"/>
<path d="M3658.6,2582.9 L3658.6,2658.8 M3642.1,2582.9 L3675.1,2582.9 M3642.1,2658.8 L3675.1,2658.8" fill="none" stroke="#2BBB44" stroke-width="3.4"/>
<path d="M3746.0,3060.0 L3746.0,3091.1 M3729.5,3060.0 L3762.5,3060.0 M3729.5,3091.1 L3762.5,3091.1" fill="none" stroke="#2BBB44" stroke-width="3.4"/>
<path d="M3833.4,3130.9 L3833.4,3208.3 M3816.9,3130.9 L3849.9,3130.9 M3816.9,3208.3 L3849.9,3208.3" fill="none" stroke="#2BBB44" stroke-width="3.4"/>
<path d="M3920.8,3145.4 L3920.8,3206.1 M3904.3,3145.4 L3937.3,3145.4 M3904.3,3206.1 L3937.3,3206.1" fill="none" stroke="#2BBB44" stroke-width="3.4"/>
<polyline points="2872.0,3288.0 2959.4,3181.8 3046.8,3260.0 3134.2,2882.7 3221.6,2851.6 3309.0,2703.6 3396.4,2707.4 3483.8,2666.4 3571.2,2731.7 3658.6,2620.9" fill="none" stroke="#2BBB44" stroke-width="7.5" stroke-linejoin="round"/>
<polygon points="2872.0,3273.5 2875.8,3284.4 2887.2,3284.6 2878.1,3291.5 2881.4,3302.5 2872.0,3295.9 2862.6,3302.5 2865.9,3291.5 2856.8,3284.6 2868.2,3284.4" fill="#2BBB44"/>
<polygon points="2959.4,3167.3 2963.2,3178.1 2974.6,3178.3 2965.5,3185.3 2968.8,3196.2 2959.4,3189.7 2950.0,3196.2 2953.3,3185.3 2944.2,3178.3 2955.6,3178.1" fill="#2BBB44"/>
<polygon points="3046.8,3245.5 3050.6,3256.3 3062.0,3256.5 3052.9,3263.4 3056.2,3274.4 3046.8,3267.9 3037.4,3274.4 3040.7,3263.4 3031.6,3256.5 3043.0,3256.3" fill="#2BBB44"/>
<polygon points="3134.2,2868.2 3138.0,2879.1 3149.4,2879.3 3140.3,2886.2 3143.6,2897.2 3134.2,2890.6 3124.8,2897.2 3128.1,2886.2 3119.0,2879.3 3130.4,2879.1" fill="#2BBB44"/>
<polygon points="3221.6,2837.1 3225.4,2847.9 3236.8,2848.2 3227.7,2855.1 3231.0,2866.1 3221.6,2859.5 3212.2,2866.1 3215.5,2855.1 3206.4,2848.2 3217.8,2847.9" fill="#2BBB44"/>
<polygon points="3309.0,2689.1 3312.8,2699.9 3324.2,2700.2 3315.1,2707.1 3318.4,2718.1 3309.0,2711.5 3299.6,2718.1 3302.9,2707.1 3293.8,2700.2 3305.2,2699.9" fill="#2BBB44"/>
<polygon points="3396.4,2692.9 3400.2,2703.7 3411.6,2704.0 3402.5,2710.9 3405.8,2721.9 3396.4,2715.3 3387.0,2721.9 3390.3,2710.9 3381.2,2704.0 3392.6,2703.7" fill="#2BBB44"/>
<polygon points="3483.8,2651.9 3487.6,2662.7 3499.0,2663.0 3489.9,2669.9 3493.2,2680.9 3483.8,2674.3 3474.4,2680.9 3477.7,2669.9 3468.6,2663.0 3480.0,2662.7" fill="#2BBB44"/>
<polygon points="3571.2,2717.2 3575.0,2728.0 3586.4,2728.3 3577.3,2735.2 3580.6,2746.1 3571.2,2739.6 3561.8,2746.1 3565.1,2735.2 3556.0,2728.3 3567.4,2728.0" fill="#2BBB44"/>
<polygon points="3658.6,2606.4 3662.4,2617.2 3673.8,2617.4 3664.7,2624.4 3668.0,2635.3 3658.6,2628.8 3649.2,2635.3 3652.5,2624.4 3643.4,2617.4 3654.8,2617.2" fill="#2BBB44"/>
<polygon points="3746.0,3061.0 3749.8,3071.8 3761.2,3072.1 3752.1,3079.0 3755.4,3090.0 3746.0,3083.4 3736.6,3090.0 3739.9,3079.0 3730.8,3072.1 3742.2,3071.8" fill="#2BBB44"/>
<polygon points="3833.4,3155.1 3837.2,3166.0 3848.6,3166.2 3839.5,3173.1 3842.8,3184.1 3833.4,3177.5 3824.0,3184.1 3827.3,3173.1 3818.2,3166.2 3829.6,3166.0" fill="#2BBB44"/>
<polygon points="3920.8,3161.2 3924.6,3172.0 3936.0,3172.3 3926.9,3179.2 3930.2,3190.2 3920.8,3183.6 3911.4,3190.2 3914.7,3179.2 3905.6,3172.3 3917.0,3172.0" fill="#2BBB44"/>
<path d="M2872.0,3266.0 L2872.0,3296.4 M2855.5,3266.0 L2888.5,3266.0 M2855.5,3296.4 L2888.5,3296.4" fill="none" stroke="#5C6BC0" stroke-width="3.4"/>
<path d="M2959.4,3053.5 L2959.4,3146.1 M2942.9,3053.5 L2975.9,3053.5 M2942.9,3146.1 L2975.9,3146.1" fill="none" stroke="#5C6BC0" stroke-width="3.4"/>
<path d="M3046.8,3129.4 L3046.8,3214.4 M3030.3,3129.4 L3063.3,3129.4 M3030.3,3214.4 L3063.3,3214.4" fill="none" stroke="#5C6BC0" stroke-width="3.4"/>
<path d="M3134.2,2726.4 L3134.2,2803.8 M3117.7,2726.4 L3150.7,2726.4 M3117.7,2803.8 L3150.7,2803.8" fill="none" stroke="#5C6BC0" stroke-width="3.4"/>
<path d="M3221.6,2676.3 L3221.6,2740.0 M3205.1,2676.3 L3238.1,2676.3 M3205.1,2740.0 L3238.1,2740.0" fill="none" stroke="#5C6BC0" stroke-width="3.4"/>
<path d="M3309.0,2671.7 L3309.0,2717.3 M3292.5,2671.7 L3325.5,2671.7 M3292.5,2717.3 L3325.5,2717.3" fill="none" stroke="#5C6BC0" stroke-width="3.4"/>
<path d="M3396.4,2670.2 L3396.4,2814.4 M3379.9,2670.2 L3412.9,2670.2 M3379.9,2814.4 L3412.9,2814.4" fill="none" stroke="#5C6BC0" stroke-width="3.4"/>
<path d="M3483.8,2611.8 L3483.8,2713.5 M3467.3,2611.8 L3500.3,2611.8 M3467.3,2713.5 L3500.3,2713.5" fill="none" stroke="#5C6BC0" stroke-width="3.4"/>
<path d="M3571.2,2591.3 L3571.2,2647.4 M3554.7,2591.3 L3587.7,2591.3 M3554.7,2647.4 L3587.7,2647.4" fill="none" stroke="#5C6BC0" stroke-width="3.4"/>
<path d="M3658.6,2627.7 L3658.6,2737.0 M3642.1,2627.7 L3675.1,2627.7 M3642.1,2737.0 L3675.1,2737.0" fill="none" stroke="#5C6BC0" stroke-width="3.4"/>
<path d="M3746.0,3018.6 L3746.0,3109.7 M3729.5,3018.6 L3762.5,3018.6 M3729.5,3109.7 L3762.5,3109.7" fill="none" stroke="#5C6BC0" stroke-width="3.4"/>
<path d="M3833.4,3123.3 L3833.4,3161.3 M3816.9,3123.3 L3849.9,3123.3 M3816.9,3161.3 L3849.9,3161.3" fill="none" stroke="#5C6BC0" stroke-width="3.4"/>
<path d="M3920.8,3156.0 L3920.8,3201.5 M3904.3,3156.0 L3937.3,3156.0 M3904.3,3201.5 L3937.3,3201.5" fill="none" stroke="#5C6BC0" stroke-width="3.4"/>
<polyline points="2872.0,3281.2 2959.4,3099.8 3046.8,3171.9 3134.2,2765.1 3221.6,2708.2 3309.0,2694.5 3396.4,2742.3 3483.8,2662.6 3571.2,2619.4 3658.6,2682.4" fill="none" stroke="#5C6BC0" stroke-width="7.5" stroke-linejoin="round"/>
<polygon points="2872.0,3266.7 2886.5,3281.2 2872.0,3295.7 2857.5,3281.2" fill="#5C6BC0"/>
<polygon points="2959.4,3085.3 2973.9,3099.8 2959.4,3114.3 2944.9,3099.8" fill="#5C6BC0"/>
<polygon points="3046.8,3157.4 3061.3,3171.9 3046.8,3186.4 3032.3,3171.9" fill="#5C6BC0"/>
<polygon points="3134.2,2750.6 3148.7,2765.1 3134.2,2779.6 3119.7,2765.1" fill="#5C6BC0"/>
<polygon points="3221.6,2693.7 3236.1,2708.2 3221.6,2722.7 3207.1,2708.2" fill="#5C6BC0"/>
<polygon points="3309.0,2680.0 3323.5,2694.5 3309.0,2709.0 3294.5,2694.5" fill="#5C6BC0"/>
<polygon points="3396.4,2727.8 3410.9,2742.3 3396.4,2756.8 3381.9,2742.3" fill="#5C6BC0"/>
<polygon points="3483.8,2648.1 3498.3,2662.6 3483.8,2677.1 3469.3,2662.6" fill="#5C6BC0"/>
<polygon points="3571.2,2604.9 3585.7,2619.4 3571.2,2633.9 3556.7,2619.4" fill="#5C6BC0"/>
<polygon points="3658.6,2667.9 3673.1,2682.4 3658.6,2696.9 3644.1,2682.4" fill="#5C6BC0"/>
<polygon points="3746.0,3049.6 3760.5,3064.1 3746.0,3078.6 3731.5,3064.1" fill="#5C6BC0"/>
<polygon points="3833.4,3127.8 3847.9,3142.3 3833.4,3156.8 3818.9,3142.3" fill="#5C6BC0"/>
<polygon points="3920.8,3164.2 3935.3,3178.7 3920.8,3193.2 3906.3,3178.7" fill="#5C6BC0"/>
<path d="M2872.0,3263.8 L2872.0,3291.1 M2855.5,3263.8 L2888.5,3263.8 M2855.5,3291.1 L2888.5,3291.1" fill="none" stroke="#F24D4D" stroke-width="3.4"/>
<path d="M2959.4,3240.2 L2959.4,3281.2 M2942.9,3240.2 L2975.9,3240.2 M2942.9,3281.2 L2975.9,3281.2" fill="none" stroke="#F24D4D" stroke-width="3.4"/>
<path d="M3046.8,3222.8 L3046.8,3268.3 M3030.3,3222.8 L3063.3,3222.8 M3030.3,3268.3 L3063.3,3268.3" fill="none" stroke="#F24D4D" stroke-width="3.4"/>
<path d="M3134.2,2852.4 L3134.2,3007.2 M3117.7,2852.4 L3150.7,2852.4 M3117.7,3007.2 L3150.7,3007.2" fill="none" stroke="#F24D4D" stroke-width="3.4"/>
<path d="M3221.6,2712.7 L3221.6,2825.1 M3205.1,2712.7 L3238.1,2712.7 M3205.1,2825.1 L3238.1,2825.1" fill="none" stroke="#F24D4D" stroke-width="3.4"/>
<path d="M3309.0,2687.7 L3309.0,2842.5 M3292.5,2687.7 L3325.5,2687.7 M3292.5,2842.5 L3325.5,2842.5" fill="none" stroke="#F24D4D" stroke-width="3.4"/>
<path d="M3396.4,2652.8 L3396.4,2772.7 M3379.9,2652.8 L3412.9,2652.8 M3379.9,2772.7 L3412.9,2772.7" fill="none" stroke="#F24D4D" stroke-width="3.4"/>
<path d="M3483.8,2570.0 L3483.8,2615.6 M3467.3,2570.0 L3500.3,2570.0 M3467.3,2615.6 L3500.3,2615.6" fill="none" stroke="#F24D4D" stroke-width="3.4"/>
<path d="M3571.2,2607.2 L3571.2,2672.5 M3554.7,2607.2 L3587.7,2607.2 M3554.7,2672.5 L3587.7,2672.5" fill="none" stroke="#F24D4D" stroke-width="3.4"/>
<path d="M3658.6,2635.3 L3658.6,2721.8 M3642.1,2635.3 L3675.1,2635.3 M3642.1,2721.8 L3675.1,2721.8" fill="none" stroke="#F24D4D" stroke-width="3.4"/>
<path d="M3746.0,3096.3 L3746.0,3145.8 M3729.5,3096.3 L3762.5,3096.3 M3729.5,3145.8 L3762.5,3145.8" fill="none" stroke="#F24D4D" stroke-width="3.4"/>
<path d="M3833.4,2856.2 L3833.4,3000.4 M3816.9,2856.2 L3849.9,2856.2 M3816.9,3000.4 L3849.9,3000.4" fill="none" stroke="#F24D4D" stroke-width="3.4"/>
<path d="M3920.8,3122.2 L3920.8,3213.3 M3904.3,3122.2 L3937.3,3122.2 M3904.3,3213.3 L3937.3,3213.3" fill="none" stroke="#F24D4D" stroke-width="3.4"/>
<polyline points="2872.0,3277.4 2959.4,3260.7 3046.8,3245.5 3134.2,2929.8 3221.6,2768.9 3309.0,2765.1 3396.4,2712.7 3483.8,2592.8 3571.2,2639.9 3658.6,2678.6" fill="none" stroke="#F24D4D" stroke-width="7.5" stroke-linejoin="round"/>
<rect x="2857.0" y="3262.4" width="30" height="30" fill="#F24D4D"/>
<rect x="2944.4" y="3245.7" width="30" height="30" fill="#F24D4D"/>
<rect x="3031.8" y="3230.5" width="30" height="30" fill="#F24D4D"/>
<rect x="3119.2" y="2914.8" width="30" height="30" fill="#F24D4D"/>
<rect x="3206.6" y="2753.9" width="30" height="30" fill="#F24D4D"/>
<rect x="3294.0" y="2750.1" width="30" height="30" fill="#F24D4D"/>
<rect x="3381.4" y="2697.7" width="30" height="30" fill="#F24D4D"/>
<rect x="3468.8" y="2577.8" width="30" height="30" fill="#F24D4D"/>
<rect x="3556.2" y="2624.9" width="30" height="30" fill="#F24D4D"/>
<rect x="3643.6" y="2663.6" width="30" height="30" fill="#F24D4D"/>
<rect x="3731.0" y="3106.1" width="30" height="30" fill="#F24D4D"/>
<rect x="3818.4" y="2913.3" width="30" height="30" fill="#F24D4D"/>
<rect x="3905.8" y="3152.7" width="30" height="30" fill="#F24D4D"/>
<path d="M2872.0,3271.3 L2872.0,3294.1 M2855.5,3271.3 L2888.5,3271.3 M2855.5,3294.1 L2888.5,3294.1" fill="none" stroke="#111" stroke-width="4.4"/>
<path d="M2959.4,3194.3 L2959.4,3282.4 M2942.9,3194.3 L2975.9,3194.3 M2942.9,3282.4 L2975.9,3282.4" fill="none" stroke="#111" stroke-width="4.4"/>
<path d="M3046.8,3252.4 L3046.8,3290.3 M3030.3,3252.4 L3063.3,3252.4 M3030.3,3290.3 L3063.3,3290.3" fill="none" stroke="#111" stroke-width="4.4"/>
<path d="M3134.2,2756.7 L3134.2,2919.2 M3117.7,2756.7 L3150.7,2756.7 M3117.7,2919.2 L3150.7,2919.2" fill="none" stroke="#111" stroke-width="4.4"/>
<path d="M3221.6,2843.3 L3221.6,2986.0 M3205.1,2843.3 L3238.1,2843.3 M3205.1,2986.0 L3238.1,2986.0" fill="none" stroke="#111" stroke-width="4.4"/>
<path d="M3309.0,2781.0 L3309.0,2954.1 M3292.5,2781.0 L3325.5,2781.0 M3292.5,2954.1 L3325.5,2954.1" fill="none" stroke="#111" stroke-width="4.4"/>
<path d="M3396.4,2766.6 L3396.4,2898.7 M3379.9,2766.6 L3412.9,2766.6 M3379.9,2898.7 L3412.9,2898.7" fill="none" stroke="#111" stroke-width="4.4"/>
<path d="M3483.8,2725.6 L3483.8,2825.8 M3467.3,2725.6 L3500.3,2725.6 M3467.3,2825.8 L3500.3,2825.8" fill="none" stroke="#111" stroke-width="4.4"/>
<path d="M3571.2,2580.7 L3571.2,2629.2 M3554.7,2580.7 L3587.7,2580.7 M3554.7,2629.2 L3587.7,2629.2" fill="none" stroke="#111" stroke-width="4.4"/>
<path d="M3658.6,2649.7 L3658.6,2701.3 M3642.1,2649.7 L3675.1,2649.7 M3642.1,2701.3 L3675.1,2701.3" fill="none" stroke="#111" stroke-width="4.4"/>
<path d="M3746.0,3071.7 L3746.0,3153.7 M3729.5,3071.7 L3762.5,3071.7 M3729.5,3153.7 L3762.5,3153.7" fill="none" stroke="#111" stroke-width="4.4"/>
<path d="M3833.4,3161.1 L3833.4,3219.2 M3816.9,3161.1 L3849.9,3161.1 M3816.9,3219.2 L3849.9,3219.2" fill="none" stroke="#111" stroke-width="4.4"/>
<path d="M3920.8,3117.7 L3920.8,3223.1 M3904.3,3117.7 L3937.3,3117.7 M3904.3,3223.1 L3937.3,3223.1" fill="none" stroke="#111" stroke-width="4.4"/>
<polyline points="2872.0,3282.7 2959.4,3238.3 3046.8,3271.3 3134.2,2838.0 3221.6,2914.6 3309.0,2867.6 3396.4,2832.6 3483.8,2775.7 3571.2,2604.9 3658.6,2675.5" fill="none" stroke="#111" stroke-width="7.5" stroke-linejoin="round"/>
<circle cx="2872.0" cy="3282.7" r="15" fill="#111"/>
<circle cx="2959.4" cy="3238.3" r="15" fill="#111"/>
<circle cx="3046.8" cy="3271.3" r="15" fill="#111"/>
<circle cx="3134.2" cy="2838.0" r="15" fill="#111"/>
<circle cx="3221.6" cy="2914.6" r="15" fill="#111"/>
<circle cx="3309.0" cy="2867.6" r="15" fill="#111"/>
<circle cx="3396.4" cy="2832.6" r="15" fill="#111"/>
<circle cx="3483.8" cy="2775.7" r="15" fill="#111"/>
<circle cx="3571.2" cy="2604.9" r="15" fill="#111"/>
<circle cx="3658.6" cy="2675.5" r="15" fill="#111"/>
<circle cx="3746.0" cy="3112.7" r="15" fill="#111"/>
<circle cx="3833.4" cy="3190.1" r="15" fill="#111"/>
<circle cx="3920.8" cy="3170.4" r="15" fill="#111"/>
<line x1="2828.0" y1="2542.5" x2="2828.0" y2="3309.5" stroke="#111" stroke-width="8"/>
<line x1="2795.0" y1="3305.5" x2="3964.8" y2="3305.5" stroke="#111" stroke-width="8"/>
<line x1="2795.0" y1="3305.5" x2="2828.0" y2="3305.5" stroke="#111" stroke-width="8"/>
<text class="b" x="2785.5" y="3333.5" font-size="87" text-anchor="end">0</text>
<line x1="2810.0" y1="3229.6" x2="2828.0" y2="3229.6" stroke="#111" stroke-width="8"/>
<line x1="2795.0" y1="3153.7" x2="2828.0" y2="3153.7" stroke="#111" stroke-width="8"/>
<text class="b" x="2785.5" y="3181.7" font-size="87" text-anchor="end">20</text>
<line x1="2810.0" y1="3077.8" x2="2828.0" y2="3077.8" stroke="#111" stroke-width="8"/>
<line x1="2795.0" y1="3001.9" x2="2828.0" y2="3001.9" stroke="#111" stroke-width="8"/>
<text class="b" x="2785.5" y="3029.9" font-size="87" text-anchor="end">40</text>
<line x1="2810.0" y1="2926.0" x2="2828.0" y2="2926.0" stroke="#111" stroke-width="8"/>
<line x1="2795.0" y1="2850.1" x2="2828.0" y2="2850.1" stroke="#111" stroke-width="8"/>
<text class="b" x="2785.5" y="2878.1" font-size="87" text-anchor="end">60</text>
<line x1="2810.0" y1="2774.2" x2="2828.0" y2="2774.2" stroke="#111" stroke-width="8"/>
<line x1="2795.0" y1="2698.3" x2="2828.0" y2="2698.3" stroke="#111" stroke-width="8"/>
<text class="b" x="2785.5" y="2726.3" font-size="87" text-anchor="end">80</text>
<line x1="2810.0" y1="2622.4" x2="2828.0" y2="2622.4" stroke="#111" stroke-width="8"/>
<line x1="2795.0" y1="2546.5" x2="2828.0" y2="2546.5" stroke="#111" stroke-width="8"/>
<text class="b" x="2785.5" y="2574.5" font-size="87" text-anchor="end">100</text>
<line x1="2872.0" y1="3309.5" x2="2872.0" y2="3337.0" stroke="#111" stroke-width="8"/>
<line x1="2959.4" y1="3309.5" x2="2959.4" y2="3337.0" stroke="#111" stroke-width="8"/>
<line x1="3046.8" y1="3309.5" x2="3046.8" y2="3337.0" stroke="#111" stroke-width="8"/>
<line x1="3134.2" y1="3309.5" x2="3134.2" y2="3337.0" stroke="#111" stroke-width="8"/>
<line x1="3221.6" y1="3309.5" x2="3221.6" y2="3337.0" stroke="#111" stroke-width="8"/>
<line x1="3309.0" y1="3309.5" x2="3309.0" y2="3337.0" stroke="#111" stroke-width="8"/>
<line x1="3396.4" y1="3309.5" x2="3396.4" y2="3337.0" stroke="#111" stroke-width="8"/>
<line x1="3483.8" y1="3309.5" x2="3483.8" y2="3337.0" stroke="#111" stroke-width="8"/>
<line x1="3571.2" y1="3309.5" x2="3571.2" y2="3337.0" stroke="#111" stroke-width="8"/>
<line x1="3658.6" y1="3309.5" x2="3658.6" y2="3337.0" stroke="#111" stroke-width="8"/>
<line x1="3746.0" y1="3309.5" x2="3746.0" y2="3337.0" stroke="#111" stroke-width="8"/>
<line x1="3833.4" y1="3309.5" x2="3833.4" y2="3337.0" stroke="#111" stroke-width="8"/>
<line x1="3920.8" y1="3309.5" x2="3920.8" y2="3337.0" stroke="#111" stroke-width="8"/>
<text class="b" x="3316.0" y="2416.0" font-size="88" textLength="190.2" lengthAdjust="spacingAndGlyphs">2kHz</text>
<text class="cj" transform="translate(2614.9,3191.8) rotate(-90)" font-size="88"><tspan textLength="303" lengthAdjust="spacingAndGlyphs">Freezing</tspan><tspan font-weight="400" dx="-0.6" dy="5">（</tspan><tspan dx="5.6" dy="-5">%</tspan><tspan font-weight="400" dx="-2.3" dy="5">）</tspan></text>
<text class="b" x="3064.0" y="3446.7" font-size="84" textLength="493.1" lengthAdjust="spacingAndGlyphs">Training Trial</text>
<text transform="translate(3663.5,3594.9) rotate(-65)" font-size="87" textLength="252" lengthAdjust="spacingAndGlyphs">Post 6h</text>
<text transform="translate(3760.5,3607.9) rotate(-65)" font-size="87" textLength="252" lengthAdjust="spacingAndGlyphs">Post 7d</text>
<text transform="translate(3852.2,3649.0) rotate(-65)" font-size="87" textLength="293" lengthAdjust="spacingAndGlyphs">Post 14d</text>
<line x1="4138.4" y1="2609.2" x2="4218.1" y2="2609.2" stroke="#111" stroke-width="8.6" stroke-linecap="round"/>
<circle cx="4178.2" cy="2609.2" r="15" fill="#111"/>
<text class="b" x="4262.8" y="2636.4" font-size="84" textLength="148.6" lengthAdjust="spacingAndGlyphs">Con</text>
<line x1="4134.2" y1="2713.0" x2="4213.9" y2="2713.0" stroke="#F24D4D" stroke-width="8" stroke-linecap="round"/>
<rect x="4159.0" y="2698.0" width="30" height="30" fill="#F24D4D"/>
<text class="b" x="4259.0" y="2741.3" font-size="84" textLength="360.9" lengthAdjust="spacingAndGlyphs">MF&amp;MW</text>
<line x1="4134.2" y1="2812.7" x2="4213.9" y2="2812.7" stroke="#5C6BC0" stroke-width="8" stroke-linecap="round"/>
<polygon points="4174.0,2798.2 4188.5,2812.7 4174.0,2827.2 4159.5,2812.7" fill="#5C6BC0"/>
<text class="b" x="4259.0" y="2838.7" font-size="84" textLength="133.0" lengthAdjust="spacingAndGlyphs">MF</text>
<line x1="4134.2" y1="2917.6" x2="4213.9" y2="2917.6" stroke="#2BBB44" stroke-width="8" stroke-linecap="round"/>
<polygon points="4174.0,2903.1 4177.8,2913.9 4189.2,2914.2 4180.1,2921.1 4183.4,2932.0 4174.0,2925.5 4164.6,2932.0 4167.9,2921.1 4158.8,2914.2 4170.2,2913.9" fill="#2BBB44"/>
<text class="b" x="4259.0" y="2944.9" font-size="84" textLength="163.7" lengthAdjust="spacingAndGlyphs">MW</text>
<text class="pl" x="19.6" y="3960.6" font-size="156">D</text>
<path d="M532.9,4864.3 L532.9,4611.4 L686.4,4611.4 L686.4,4864.3" fill="none" stroke="#111" stroke-width="11.8"/>
<path d="M779.7,4864.3 L779.7,4623.4 L933.1,4623.4 L933.1,4864.3" fill="none" stroke="#F24D4D" stroke-width="11.8"/>
<path d="M1027.9,4864.3 L1027.9,4548.0 L1180.4,4548.0 L1180.4,4864.3" fill="none" stroke="#5C6BC0" stroke-width="11.8"/>
<path d="M1274.2,4864.3 L1274.2,4561.9 L1427.1,4561.9 L1427.1,4864.3" fill="none" stroke="#2BBB44" stroke-width="11.8"/>
<path d="M609.6,4550.6 L609.6,4660.4 M567.6,4550.6 L651.6,4550.6 M567.6,4660.4 L651.6,4660.4" fill="none" stroke="#111" stroke-width="4"/>
<circle cx="608.9" cy="4429.9" r="12" fill="#111"/>
<circle cx="576.4" cy="4470.8" r="12" fill="#111"/>
<circle cx="641.4" cy="4485.0" r="12" fill="#111"/>
<circle cx="576.4" cy="4514.3" r="12" fill="#111"/>
<circle cx="608.9" cy="4632.0" r="12" fill="#111"/>
<circle cx="608.9" cy="4668.8" r="12" fill="#111"/>
<circle cx="608.9" cy="4797.7" r="12" fill="#111"/>
<circle cx="608.9" cy="4845.5" r="12" fill="#111"/>
<path d="M856.4,4584.0 L856.4,4650.6 M814.4,4584.0 L898.4,4584.0 M814.4,4650.6 L898.4,4650.6" fill="none" stroke="#F24D4D" stroke-width="4"/>
<circle cx="855.6" cy="4461.7" r="16" fill="#F24D4D"/>
<circle cx="790.0" cy="4534.0" r="16" fill="#F24D4D"/>
<circle cx="855.6" cy="4564.0" r="16" fill="#F24D4D"/>
<circle cx="790.0" cy="4605.0" r="16" fill="#F24D4D"/>
<circle cx="855.6" cy="4625.6" r="16" fill="#F24D4D"/>
<circle cx="790.0" cy="4718.0" r="16" fill="#F24D4D"/>
<circle cx="855.6" cy="4711.7" r="16" fill="#F24D4D"/>
<circle cx="922.2" cy="4715.0" r="16" fill="#F24D4D"/>
<path d="M1104.2,4479.3 L1104.2,4604.9 M1062.2,4479.3 L1146.2,4479.3 M1062.2,4604.9 L1146.2,4604.9" fill="none" stroke="#5C6BC0" stroke-width="4"/>
<circle cx="1037.8" cy="4383.1" r="12" fill="#5C6BC0"/>
<circle cx="1037.8" cy="4428.2" r="12" fill="#5C6BC0"/>
<circle cx="1103.2" cy="4405.6" r="12" fill="#5C6BC0"/>
<circle cx="1169.8" cy="4406.0" r="12" fill="#5C6BC0"/>
<circle cx="1103.2" cy="4462.4" r="12" fill="#5C6BC0"/>
<circle cx="1103.2" cy="4682.3" r="12" fill="#5C6BC0"/>
<circle cx="1070.2" cy="4787.6" r="12" fill="#5C6BC0"/>
<circle cx="1135.9" cy="4782.3" r="12" fill="#5C6BC0"/>
<path d="M1350.7,4533.5 L1350.7,4576.0 M1308.7,4533.5 L1392.7,4533.5 M1308.7,4576.0 L1392.7,4576.0" fill="none" stroke="#2BBB44" stroke-width="4"/>
<circle cx="1284.8" cy="4499.2" r="12" fill="#2BBB44"/>
<circle cx="1350.2" cy="4486.8" r="12" fill="#2BBB44"/>
<circle cx="1416.8" cy="4522.2" r="12" fill="#2BBB44"/>
<circle cx="1350.2" cy="4544.0" r="12" fill="#2BBB44"/>
<circle cx="1284.8" cy="4559.0" r="12" fill="#2BBB44"/>
<circle cx="1416.8" cy="4562.0" r="12" fill="#2BBB44"/>
<circle cx="1350.2" cy="4587.2" r="12" fill="#2BBB44"/>
<circle cx="1350.2" cy="4680.5" r="12" fill="#2BBB44"/>
<line x1="444.0" y1="4045.9" x2="444.0" y2="4868.3" stroke="#111" stroke-width="8"/>
<line x1="411.0" y1="4864.3" x2="1515.6" y2="4864.3" stroke="#111" stroke-width="8"/>
<line x1="410.0" y1="4864.3" x2="444.0" y2="4864.3" stroke="#111" stroke-width="8"/>
<text class="b" x="399.5" y="4893.8" font-size="92" text-anchor="end">0</text>
<line x1="425.0" y1="4762.5" x2="444.0" y2="4762.5" stroke="#111" stroke-width="8"/>
<line x1="410.0" y1="4660.7" x2="444.0" y2="4660.7" stroke="#111" stroke-width="8"/>
<text class="b" x="399.5" y="4690.2" font-size="92" text-anchor="end">20</text>
<line x1="425.0" y1="4558.9" x2="444.0" y2="4558.9" stroke="#111" stroke-width="8"/>
<line x1="410.0" y1="4457.1" x2="444.0" y2="4457.1" stroke="#111" stroke-width="8"/>
<text class="b" x="399.5" y="4486.6" font-size="92" text-anchor="end">40</text>
<line x1="425.0" y1="4355.3" x2="444.0" y2="4355.3" stroke="#111" stroke-width="8"/>
<line x1="410.0" y1="4253.5" x2="444.0" y2="4253.5" stroke="#111" stroke-width="8"/>
<text class="b" x="399.5" y="4283.0" font-size="92" text-anchor="end">60</text>
<line x1="425.0" y1="4151.7" x2="444.0" y2="4151.7" stroke="#111" stroke-width="8"/>
<line x1="410.0" y1="4049.9" x2="444.0" y2="4049.9" stroke="#111" stroke-width="8"/>
<text class="b" x="399.5" y="4079.4" font-size="92" text-anchor="end">80</text>
<line x1="608.6" y1="4868.3" x2="608.6" y2="4898.3" stroke="#111" stroke-width="8"/>
<line x1="855.5" y1="4868.3" x2="855.5" y2="4898.3" stroke="#111" stroke-width="8"/>
<line x1="1102.1" y1="4868.3" x2="1102.1" y2="4898.3" stroke="#111" stroke-width="8"/>
<line x1="1350.2" y1="4868.3" x2="1350.2" y2="4898.3" stroke="#111" stroke-width="8"/>
<line x1="874.0" y1="4324.8" x2="1083.7" y2="4324.8" stroke="#111" stroke-width="12" stroke-linecap="round"/>
<text x="957.0" y="4314.5" font-size="90" letter-spacing="1.8" stroke="#111" stroke-width="3.5" stroke-linejoin="miter" style="font-family:'DejaVu Sans',sans-serif">*</text>
<text class="b" x="730.0" y="3907.0" font-size="88" textLength="506.1" lengthAdjust="spacingAndGlyphs">Post 6h-2kHz</text>
<text class="cj" transform="translate(260.4,4717.2) rotate(-90)" font-size="88"><tspan textLength="303" lengthAdjust="spacingAndGlyphs">Freezing</tspan><tspan font-weight="400" dx="-0.6" dy="5">（</tspan><tspan dx="5.6" dy="-5">%</tspan><tspan font-weight="400" dx="-2.3" dy="5">）</tspan></text>
<text class="b" x="540.0" y="4969.0" font-size="85" textLength="136.5" lengthAdjust="spacingAndGlyphs">Con</text>
<text class="b" x="702.0" y="4969.0" font-size="85" textLength="334.2" lengthAdjust="spacingAndGlyphs">MF&amp;MW</text>
<text class="b" x="1059.0" y="4969.0" font-size="85" textLength="121.6" lengthAdjust="spacingAndGlyphs">MF</text>
<text class="b" x="1276.0" y="4969.0" font-size="85" textLength="147.4" lengthAdjust="spacingAndGlyphs">MW</text>
<text class="pl" x="1570.0" y="3960.6" font-size="156">E</text>
<path d="M2102.5,4854.3 L2102.5,4287.5 L2252.4,4287.5 L2252.4,4854.3" fill="none" stroke="#111" stroke-width="11.8"/>
<path d="M2344.2,4854.3 L2344.2,4484.9 L2494.9,4484.9 L2494.9,4854.3" fill="none" stroke="#F24D4D" stroke-width="11.8"/>
<path d="M2587.5,4854.3 L2587.5,4285.6 L2737.3,4285.6 L2737.3,4854.3" fill="none" stroke="#5C6BC0" stroke-width="11.8"/>
<path d="M2829.2,4854.3 L2829.2,4246.5 L2979.1,4246.5 L2979.1,4854.3" fill="none" stroke="#2BBB44" stroke-width="11.8"/>
<path d="M2177.4,4262.8 L2177.4,4300.4 M2135.4,4262.8 L2219.4,4262.8 M2135.4,4300.4 L2219.4,4300.4" fill="none" stroke="#111" stroke-width="4"/>
<circle cx="2112.4" cy="4238.3" r="12" fill="#111"/>
<circle cx="2177.1" cy="4239.1" r="12" fill="#111"/>
<circle cx="2144.4" cy="4256.8" r="12" fill="#111"/>
<circle cx="2210.2" cy="4255.6" r="12" fill="#111"/>
<circle cx="2242.5" cy="4253.8" r="12" fill="#111"/>
<circle cx="2159.8" cy="4303.4" r="12" fill="#111"/>
<circle cx="2193.2" cy="4319.5" r="12" fill="#111"/>
<circle cx="2177.1" cy="4388.7" r="12" fill="#111"/>
<path d="M2419.6,4431.2 L2419.6,4527.1 M2377.6,4431.2 L2461.6,4431.2 M2377.6,4527.1 L2461.6,4527.1" fill="none" stroke="#F24D4D" stroke-width="4"/>
<circle cx="2419.2" cy="4316.9" r="16" fill="#F24D4D"/>
<circle cx="2354.5" cy="4378.6" r="16" fill="#F24D4D"/>
<circle cx="2419.2" cy="4388.0" r="16" fill="#F24D4D"/>
<circle cx="2484.2" cy="4373.7" r="16" fill="#F24D4D"/>
<circle cx="2419.2" cy="4475.6" r="16" fill="#F24D4D"/>
<circle cx="2484.2" cy="4599.2" r="16" fill="#F24D4D"/>
<circle cx="2419.2" cy="4627.4" r="16" fill="#F24D4D"/>
<circle cx="2419.2" cy="4668.8" r="16" fill="#F24D4D"/>
<path d="M2662.4,4266.5 L2662.4,4292.1 M2620.4,4266.5 L2704.4,4266.5 M2620.4,4292.1 L2704.4,4292.1" fill="none" stroke="#5C6BC0" stroke-width="4"/>
<circle cx="2661.7" cy="4215.0" r="12" fill="#5C6BC0"/>
<circle cx="2726.7" cy="4257.1" r="12" fill="#5C6BC0"/>
<circle cx="2640.2" cy="4268.0" r="12" fill="#5C6BC0"/>
<circle cx="2683.5" cy="4268.0" r="12" fill="#5C6BC0"/>
<circle cx="2597.0" cy="4280.8" r="12" fill="#5C6BC0"/>
<circle cx="2726.7" cy="4299.6" r="12" fill="#5C6BC0"/>
<circle cx="2683.5" cy="4320.3" r="12" fill="#5C6BC0"/>
<circle cx="2597.0" cy="4325.2" r="12" fill="#5C6BC0"/>
<path d="M2904.2,4231.2 L2904.2,4248.0 M2862.2,4231.2 L2946.2,4231.2 M2862.2,4248.0 L2946.2,4248.0" fill="none" stroke="#2BBB44" stroke-width="4"/>
<circle cx="2860.2" cy="4219.9" r="12" fill="#2BBB44"/>
<circle cx="2882.3" cy="4228.2" r="12" fill="#2BBB44"/>
<circle cx="2838.3" cy="4236.5" r="12" fill="#2BBB44"/>
<circle cx="2903.4" cy="4244.0" r="12" fill="#2BBB44"/>
<circle cx="2925.6" cy="4242.9" r="12" fill="#2BBB44"/>
<circle cx="2946.6" cy="4227.4" r="12" fill="#2BBB44"/>
<circle cx="2968.8" cy="4223.3" r="12" fill="#2BBB44"/>
<circle cx="2903.4" cy="4305.3" r="12" fill="#2BBB44"/>
<line x1="2015.0" y1="4052.3" x2="2015.0" y2="4858.3" stroke="#111" stroke-width="8"/>
<line x1="1982.0" y1="4854.3" x2="3065.0" y2="4854.3" stroke="#111" stroke-width="8"/>
<line x1="1981.0" y1="4854.3" x2="2015.0" y2="4854.3" stroke="#111" stroke-width="8"/>
<text class="b" x="1970.5" y="4883.8" font-size="92" text-anchor="end">0</text>
<line x1="1996.0" y1="4787.8" x2="2015.0" y2="4787.8" stroke="#111" stroke-width="8"/>
<line x1="1981.0" y1="4721.3" x2="2015.0" y2="4721.3" stroke="#111" stroke-width="8"/>
<text class="b" x="1970.5" y="4750.8" font-size="92" text-anchor="end">20</text>
<line x1="1996.0" y1="4654.8" x2="2015.0" y2="4654.8" stroke="#111" stroke-width="8"/>
<line x1="1981.0" y1="4588.3" x2="2015.0" y2="4588.3" stroke="#111" stroke-width="8"/>
<text class="b" x="1970.5" y="4617.8" font-size="92" text-anchor="end">40</text>
<line x1="1996.0" y1="4521.8" x2="2015.0" y2="4521.8" stroke="#111" stroke-width="8"/>
<line x1="1981.0" y1="4455.3" x2="2015.0" y2="4455.3" stroke="#111" stroke-width="8"/>
<text class="b" x="1970.5" y="4484.8" font-size="92" text-anchor="end">60</text>
<line x1="1996.0" y1="4388.8" x2="2015.0" y2="4388.8" stroke="#111" stroke-width="8"/>
<line x1="1981.0" y1="4322.3" x2="2015.0" y2="4322.3" stroke="#111" stroke-width="8"/>
<text class="b" x="1970.5" y="4351.8" font-size="92" text-anchor="end">80</text>
<line x1="1996.0" y1="4255.8" x2="2015.0" y2="4255.8" stroke="#111" stroke-width="8"/>
<line x1="1981.0" y1="4189.3" x2="2015.0" y2="4189.3" stroke="#111" stroke-width="8"/>
<text class="b" x="1970.5" y="4218.8" font-size="92" text-anchor="end">100</text>
<line x1="1996.0" y1="4122.8" x2="2015.0" y2="4122.8" stroke="#111" stroke-width="8"/>
<line x1="1981.0" y1="4056.3" x2="2015.0" y2="4056.3" stroke="#111" stroke-width="8"/>
<text class="b" x="1970.5" y="4085.8" font-size="92" text-anchor="end">120</text>
<line x1="2177.0" y1="4858.3" x2="2177.0" y2="4888.3" stroke="#111" stroke-width="8"/>
<line x1="2419.5" y1="4858.3" x2="2419.5" y2="4888.3" stroke="#111" stroke-width="8"/>
<line x1="2662.0" y1="4858.3" x2="2662.0" y2="4888.3" stroke="#111" stroke-width="8"/>
<line x1="2904.5" y1="4858.3" x2="2904.5" y2="4888.3" stroke="#111" stroke-width="8"/>
<line x1="2180.4" y1="4163.7" x2="2397.8" y2="4163.7" stroke="#111" stroke-width="12" stroke-linecap="round"/>
<line x1="2426.0" y1="4161.5" x2="2643.2" y2="4161.5" stroke="#111" stroke-width="12" stroke-linecap="round"/>
<line x1="2432.7" y1="4057.7" x2="2918.8" y2="4057.7" stroke="#111" stroke-width="12" stroke-linecap="round"/>
<text x="2242.0" y="4153.6" font-size="90" letter-spacing="1.8" stroke="#111" stroke-width="3.5" stroke-linejoin="miter" style="font-family:'DejaVu Sans',sans-serif">**</text>
<text x="2463.8" y="4152.3" font-size="90" letter-spacing="1.8" stroke="#111" stroke-width="3.5" stroke-linejoin="miter" style="font-family:'DejaVu Sans',sans-serif">***</text>
<text x="2604.5" y="4047.6" font-size="90" letter-spacing="1.8" stroke="#111" stroke-width="3.5" stroke-linejoin="miter" style="font-family:'DejaVu Sans',sans-serif">***</text>
<text class="b" x="2274.0" y="3917.0" font-size="88" textLength="537.0" lengthAdjust="spacingAndGlyphs">Post 7d-12kHz</text>
<text class="cj" transform="translate(1790.8,4714.0) rotate(-90)" font-size="88"><tspan textLength="303" lengthAdjust="spacingAndGlyphs">Freezing</tspan><tspan font-weight="400" dx="-0.6" dy="5">（</tspan><tspan dx="5.6" dy="-5">%</tspan><tspan font-weight="400" dx="-2.3" dy="5">）</tspan></text>
<text class="b" x="2109.0" y="4957.5" font-size="85" textLength="135.5" lengthAdjust="spacingAndGlyphs">Con</text>
<text class="b" x="2269.0" y="4957.5" font-size="85" textLength="325.0" lengthAdjust="spacingAndGlyphs">MF&amp;MW</text>
<text class="b" x="2618.0" y="4957.5" font-size="85" textLength="118.2" lengthAdjust="spacingAndGlyphs">MF</text>
<text class="b" x="2830.0" y="4957.5" font-size="85" textLength="145.0" lengthAdjust="spacingAndGlyphs">MW</text>
<text class="pl" x="3119.7" y="3960.6" font-size="156">F</text>
<path d="M3641.7,4854.3 L3641.7,4739.7 L3792.3,4739.7 L3792.3,4854.3" fill="none" stroke="#111" stroke-width="11.8"/>
<path d="M3884.9,4854.3 L3884.9,4461.7 L4035.8,4461.7 L4035.8,4854.3" fill="none" stroke="#F24D4D" stroke-width="11.8"/>
<path d="M4128.9,4854.3 L4128.9,4688.4 L4279.8,4688.4 L4279.8,4854.3" fill="none" stroke="#5C6BC0" stroke-width="11.8"/>
<path d="M4372.5,4854.3 L4372.5,4716.3 L4523.3,4716.3 L4523.3,4854.3" fill="none" stroke="#2BBB44" stroke-width="11.8"/>
<path d="M3717.0,4702.3 L3717.0,4764.6 M3675.0,4702.3 L3759.0,4702.3 M3675.0,4764.6 L3759.0,4764.6" fill="none" stroke="#111" stroke-width="4"/>
<circle cx="3716.4" cy="4546.4" r="12" fill="#111"/>
<circle cx="3716.4" cy="4691.6" r="12" fill="#111"/>
<circle cx="3651.4" cy="4734.1" r="12" fill="#111"/>
<circle cx="3716.4" cy="4725.3" r="12" fill="#111"/>
<circle cx="3781.3" cy="4753.6" r="12" fill="#111"/>
<circle cx="3716.4" cy="4776.3" r="12" fill="#111"/>
<circle cx="3748.5" cy="4808.1" r="12" fill="#111"/>
<circle cx="3683.9" cy="4833.1" r="12" fill="#111"/>
<path d="M3960.3,4379.9 L3960.3,4530.5 M3918.3,4379.9 L4002.3,4379.9 M3918.3,4530.5 L4002.3,4530.5" fill="none" stroke="#F24D4D" stroke-width="4"/>
<circle cx="3960.1" cy="4148.1" r="16" fill="#F24D4D"/>
<circle cx="3960.1" cy="4187.6" r="16" fill="#F24D4D"/>
<circle cx="3991.7" cy="4390.6" r="16" fill="#F24D4D"/>
<circle cx="3927.7" cy="4415.9" r="16" fill="#F24D4D"/>
<circle cx="3991.7" cy="4519.5" r="16" fill="#F24D4D"/>
<circle cx="3927.7" cy="4545.8" r="16" fill="#F24D4D"/>
<circle cx="3959.9" cy="4683.8" r="16" fill="#F24D4D"/>
<circle cx="3959.9" cy="4754.2" r="16" fill="#F24D4D"/>
<path d="M4204.4,4663.0 L4204.4,4702.3 M4162.4,4663.0 L4246.4,4663.0 M4162.4,4702.3 L4246.4,4702.3" fill="none" stroke="#5C6BC0" stroke-width="4"/>
<circle cx="4139.0" cy="4615.3" r="12" fill="#5C6BC0"/>
<circle cx="4139.0" cy="4655.2" r="12" fill="#5C6BC0"/>
<circle cx="4203.9" cy="4629.9" r="12" fill="#5C6BC0"/>
<circle cx="4269.5" cy="4663.0" r="12" fill="#5C6BC0"/>
<circle cx="4203.9" cy="4674.0" r="12" fill="#5C6BC0"/>
<circle cx="4269.5" cy="4706.2" r="12" fill="#5C6BC0"/>
<circle cx="4203.9" cy="4733.1" r="12" fill="#5C6BC0"/>
<circle cx="4203.9" cy="4783.4" r="12" fill="#5C6BC0"/>
<path d="M4447.9,4669.8 L4447.9,4752.0 M4405.9,4669.8 L4489.9,4669.8 M4405.9,4752.0 L4489.9,4752.0" fill="none" stroke="#2BBB44" stroke-width="4"/>
<circle cx="4447.1" cy="4445.1" r="12" fill="#2BBB44"/>
<circle cx="4447.1" cy="4670.8" r="12" fill="#2BBB44"/>
<circle cx="4414.6" cy="4723.4" r="12" fill="#2BBB44"/>
<circle cx="4479.2" cy="4720.1" r="12" fill="#2BBB44"/>
<circle cx="4512.3" cy="4756.5" r="12" fill="#2BBB44"/>
<circle cx="4447.1" cy="4769.5" r="12" fill="#2BBB44"/>
<circle cx="4512.3" cy="4789.0" r="12" fill="#2BBB44"/>
<circle cx="4381.8" cy="4809.7" r="12" fill="#2BBB44"/>
<line x1="3554.0" y1="4048.7" x2="3554.0" y2="4858.3" stroke="#111" stroke-width="8"/>
<line x1="3521.0" y1="4854.3" x2="4610.0" y2="4854.3" stroke="#111" stroke-width="8"/>
<line x1="3520.0" y1="4854.3" x2="3554.0" y2="4854.3" stroke="#111" stroke-width="8"/>
<text class="b" x="3509.5" y="4883.8" font-size="92" text-anchor="end">0</text>
<line x1="3535.0" y1="4774.1" x2="3554.0" y2="4774.1" stroke="#111" stroke-width="8"/>
<line x1="3520.0" y1="4694.0" x2="3554.0" y2="4694.0" stroke="#111" stroke-width="8"/>
<text class="b" x="3509.5" y="4723.5" font-size="92" text-anchor="end">20</text>
<line x1="3535.0" y1="4613.8" x2="3554.0" y2="4613.8" stroke="#111" stroke-width="8"/>
<line x1="3520.0" y1="4533.7" x2="3554.0" y2="4533.7" stroke="#111" stroke-width="8"/>
<text class="b" x="3509.5" y="4563.2" font-size="92" text-anchor="end">40</text>
<line x1="3535.0" y1="4453.5" x2="3554.0" y2="4453.5" stroke="#111" stroke-width="8"/>
<line x1="3520.0" y1="4373.3" x2="3554.0" y2="4373.3" stroke="#111" stroke-width="8"/>
<text class="b" x="3509.5" y="4402.8" font-size="92" text-anchor="end">60</text>
<line x1="3535.0" y1="4293.2" x2="3554.0" y2="4293.2" stroke="#111" stroke-width="8"/>
<line x1="3520.0" y1="4213.0" x2="3554.0" y2="4213.0" stroke="#111" stroke-width="8"/>
<text class="b" x="3509.5" y="4242.5" font-size="92" text-anchor="end">80</text>
<line x1="3535.0" y1="4132.9" x2="3554.0" y2="4132.9" stroke="#111" stroke-width="8"/>
<line x1="3520.0" y1="4052.7" x2="3554.0" y2="4052.7" stroke="#111" stroke-width="8"/>
<text class="b" x="3509.5" y="4082.2" font-size="92" text-anchor="end">100</text>
<line x1="3716.4" y1="4858.3" x2="3716.4" y2="4888.3" stroke="#111" stroke-width="8"/>
<line x1="3959.9" y1="4858.3" x2="3959.9" y2="4888.3" stroke="#111" stroke-width="8"/>
<line x1="4203.2" y1="4858.3" x2="4203.2" y2="4888.3" stroke="#111" stroke-width="8"/>
<line x1="4446.8" y1="4858.3" x2="4446.8" y2="4888.3" stroke="#111" stroke-width="8"/>
<line x1="3711.6" y1="4124.2" x2="3944.0" y2="4124.2" stroke="#111" stroke-width="12" stroke-linecap="round"/>
<line x1="3974.7" y1="4124.2" x2="4207.0" y2="4124.2" stroke="#111" stroke-width="12" stroke-linecap="round"/>
<line x1="3981.5" y1="4028.6" x2="4445.0" y2="4028.6" stroke="#111" stroke-width="12" stroke-linecap="round"/>
<text x="3757.4" y="4115.3" font-size="90" letter-spacing="1.8" stroke="#111" stroke-width="3.5" stroke-linejoin="miter" style="font-family:'DejaVu Sans',sans-serif">***</text>
<text x="4020.0" y="4115.3" font-size="90" letter-spacing="1.8" stroke="#111" stroke-width="3.5" stroke-linejoin="miter" style="font-family:'DejaVu Sans',sans-serif">***</text>
<text x="4143.0" y="4018.3" font-size="90" letter-spacing="1.8" stroke="#111" stroke-width="3.5" stroke-linejoin="miter" style="font-family:'DejaVu Sans',sans-serif">***</text>
<text class="b" x="3836.0" y="3918.5" font-size="88" textLength="497.0" lengthAdjust="spacingAndGlyphs">Post 7d-2kHz</text>
<text class="cj" transform="translate(3326.7,4711.8) rotate(-90)" font-size="88"><tspan textLength="303" lengthAdjust="spacingAndGlyphs">Freezing</tspan><tspan font-weight="400" dx="-0.6" dy="5">（</tspan><tspan dx="5.6" dy="-5">%</tspan><tspan font-weight="400" dx="-2.3" dy="5">）</tspan></text>
<text class="b" x="3648.0" y="4949.0" font-size="85" textLength="136.5" lengthAdjust="spacingAndGlyphs">Con</text>
<text class="b" x="3808.0" y="4949.0" font-size="85" textLength="325.2" lengthAdjust="spacingAndGlyphs">MF&amp;MW</text>
<text class="b" x="4160.0" y="4949.0" font-size="85" textLength="118.5" lengthAdjust="spacingAndGlyphs">MF</text>
<text class="b" x="4374.0" y="4949.0" font-size="85" textLength="146.4" lengthAdjust="spacingAndGlyphs">MW</text>
</svg></body></html>
